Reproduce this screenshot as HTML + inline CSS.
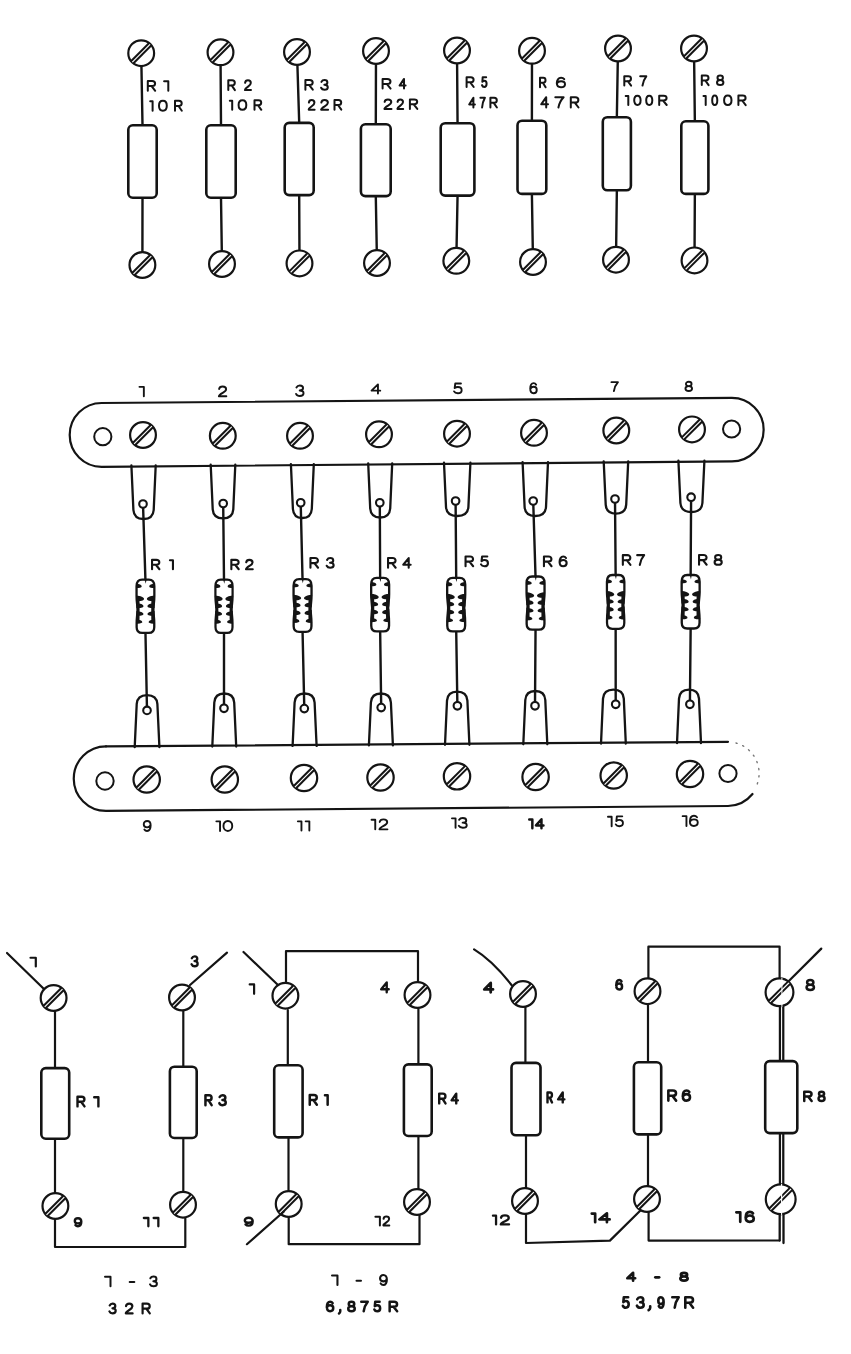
<!DOCTYPE html>
<html><head><meta charset="utf-8"><style>
html,body{margin:0;padding:0;background:#fff;width:851px;height:1354px;overflow:hidden}
svg{fill:#141414}
</style></head><body>
<svg width="851" height="1354" viewBox="0 0 851 1354" style="display:block">
<g stroke="#141414" fill="none" stroke-linecap="round" stroke-linejoin="round">
<line x1="141.2" y1="53.2" x2="142.5" y2="125" stroke-width="2.4"/>
<line x1="142.5" y1="198" x2="142.4" y2="265" stroke-width="2.4"/>
<line x1="220.5" y1="52.3" x2="221.0" y2="125" stroke-width="2.4"/>
<line x1="221.0" y1="198" x2="222" y2="264" stroke-width="2.4"/>
<line x1="297" y1="52" x2="299.2" y2="122.6" stroke-width="2.4"/>
<line x1="299.2" y1="195.4" x2="299.5" y2="263.4" stroke-width="2.4"/>
<line x1="376" y1="51" x2="375.8" y2="124" stroke-width="2.4"/>
<line x1="375.8" y1="196.4" x2="377" y2="263" stroke-width="2.4"/>
<line x1="457" y1="50.5" x2="457.54999999999995" y2="122.9" stroke-width="2.4"/>
<line x1="457.54999999999995" y1="195.9" x2="456.3" y2="260.8" stroke-width="2.4"/>
<line x1="532" y1="50.8" x2="531.9000000000001" y2="120.4" stroke-width="2.4"/>
<line x1="531.9000000000001" y1="194.2" x2="533" y2="262" stroke-width="2.4"/>
<line x1="618" y1="48.5" x2="616.85" y2="116.9" stroke-width="2.4"/>
<line x1="616.85" y1="190.6" x2="616" y2="259.7" stroke-width="2.4"/>
<line x1="694" y1="48.5" x2="694.85" y2="121" stroke-width="2.4"/>
<line x1="694.85" y1="194.2" x2="694.5" y2="260.4" stroke-width="2.4"/>
<rect x="128.30" y="125.30" width="28.40" height="72.40" rx="4.5" fill="#fff" stroke-width="2.6"/>
<rect x="206.30" y="125.30" width="29.40" height="72.40" rx="4.5" fill="#fff" stroke-width="2.6"/>
<rect x="284.70" y="122.90" width="29.00" height="72.20" rx="4.5" fill="#fff" stroke-width="2.6"/>
<rect x="360.90" y="124.30" width="29.80" height="71.80" rx="4.5" fill="#fff" stroke-width="2.6"/>
<rect x="440.70" y="123.20" width="33.70" height="72.40" rx="4.5" fill="#fff" stroke-width="2.6"/>
<rect x="517.50" y="120.70" width="28.80" height="73.20" rx="4.5" fill="#fff" stroke-width="2.6"/>
<rect x="602.80" y="117.20" width="28.10" height="73.10" rx="4.5" fill="#fff" stroke-width="2.6"/>
<rect x="681.30" y="121.30" width="27.10" height="72.60" rx="4.5" fill="#fff" stroke-width="2.6"/>
<circle cx="141.2" cy="53.2" r="12.90" fill="#fff" stroke-width="2.2"/>
<line x1="132.34" y1="62.06" x2="150.06" y2="44.34" stroke-width="5.2" stroke-linecap="butt"/>
<line x1="132.34" y1="62.06" x2="150.06" y2="44.34" stroke="#fff" stroke-width="1.15" stroke-linecap="butt"/>
<circle cx="220.5" cy="52.3" r="12.90" fill="#fff" stroke-width="2.2"/>
<line x1="211.64" y1="61.16" x2="229.36" y2="43.44" stroke-width="5.2" stroke-linecap="butt"/>
<line x1="211.64" y1="61.16" x2="229.36" y2="43.44" stroke="#fff" stroke-width="1.15" stroke-linecap="butt"/>
<circle cx="297" cy="52" r="12.90" fill="#fff" stroke-width="2.2"/>
<line x1="288.14" y1="60.86" x2="305.86" y2="43.14" stroke-width="5.2" stroke-linecap="butt"/>
<line x1="288.14" y1="60.86" x2="305.86" y2="43.14" stroke="#fff" stroke-width="1.15" stroke-linecap="butt"/>
<circle cx="376" cy="51" r="12.90" fill="#fff" stroke-width="2.2"/>
<line x1="367.14" y1="59.86" x2="384.86" y2="42.14" stroke-width="5.2" stroke-linecap="butt"/>
<line x1="367.14" y1="59.86" x2="384.86" y2="42.14" stroke="#fff" stroke-width="1.15" stroke-linecap="butt"/>
<circle cx="457" cy="50.5" r="12.90" fill="#fff" stroke-width="2.2"/>
<line x1="448.14" y1="59.36" x2="465.86" y2="41.64" stroke-width="5.2" stroke-linecap="butt"/>
<line x1="448.14" y1="59.36" x2="465.86" y2="41.64" stroke="#fff" stroke-width="1.15" stroke-linecap="butt"/>
<circle cx="532" cy="50.8" r="12.90" fill="#fff" stroke-width="2.2"/>
<line x1="523.14" y1="59.66" x2="540.86" y2="41.94" stroke-width="5.2" stroke-linecap="butt"/>
<line x1="523.14" y1="59.66" x2="540.86" y2="41.94" stroke="#fff" stroke-width="1.15" stroke-linecap="butt"/>
<circle cx="618" cy="48.5" r="12.90" fill="#fff" stroke-width="2.2"/>
<line x1="609.14" y1="57.36" x2="626.86" y2="39.64" stroke-width="5.2" stroke-linecap="butt"/>
<line x1="609.14" y1="57.36" x2="626.86" y2="39.64" stroke="#fff" stroke-width="1.15" stroke-linecap="butt"/>
<circle cx="694" cy="48.5" r="12.90" fill="#fff" stroke-width="2.2"/>
<line x1="685.14" y1="57.36" x2="702.86" y2="39.64" stroke-width="5.2" stroke-linecap="butt"/>
<line x1="685.14" y1="57.36" x2="702.86" y2="39.64" stroke="#fff" stroke-width="1.15" stroke-linecap="butt"/>
<circle cx="142.4" cy="265" r="12.90" fill="#fff" stroke-width="2.2"/>
<line x1="133.54" y1="273.86" x2="151.26" y2="256.14" stroke-width="5.2" stroke-linecap="butt"/>
<line x1="133.54" y1="273.86" x2="151.26" y2="256.14" stroke="#fff" stroke-width="1.15" stroke-linecap="butt"/>
<circle cx="222" cy="264" r="12.90" fill="#fff" stroke-width="2.2"/>
<line x1="213.14" y1="272.86" x2="230.86" y2="255.14" stroke-width="5.2" stroke-linecap="butt"/>
<line x1="213.14" y1="272.86" x2="230.86" y2="255.14" stroke="#fff" stroke-width="1.15" stroke-linecap="butt"/>
<circle cx="299.5" cy="263.4" r="12.90" fill="#fff" stroke-width="2.2"/>
<line x1="290.64" y1="272.26" x2="308.36" y2="254.54" stroke-width="5.2" stroke-linecap="butt"/>
<line x1="290.64" y1="272.26" x2="308.36" y2="254.54" stroke="#fff" stroke-width="1.15" stroke-linecap="butt"/>
<circle cx="377" cy="263" r="12.90" fill="#fff" stroke-width="2.2"/>
<line x1="368.14" y1="271.86" x2="385.86" y2="254.14" stroke-width="5.2" stroke-linecap="butt"/>
<line x1="368.14" y1="271.86" x2="385.86" y2="254.14" stroke="#fff" stroke-width="1.15" stroke-linecap="butt"/>
<circle cx="456.3" cy="260.8" r="12.90" fill="#fff" stroke-width="2.2"/>
<line x1="447.44" y1="269.66" x2="465.16" y2="251.94" stroke-width="5.2" stroke-linecap="butt"/>
<line x1="447.44" y1="269.66" x2="465.16" y2="251.94" stroke="#fff" stroke-width="1.15" stroke-linecap="butt"/>
<circle cx="533" cy="262" r="12.90" fill="#fff" stroke-width="2.2"/>
<line x1="524.14" y1="270.86" x2="541.86" y2="253.14" stroke-width="5.2" stroke-linecap="butt"/>
<line x1="524.14" y1="270.86" x2="541.86" y2="253.14" stroke="#fff" stroke-width="1.15" stroke-linecap="butt"/>
<circle cx="616" cy="259.7" r="12.90" fill="#fff" stroke-width="2.2"/>
<line x1="607.14" y1="268.56" x2="624.86" y2="250.84" stroke-width="5.2" stroke-linecap="butt"/>
<line x1="607.14" y1="268.56" x2="624.86" y2="250.84" stroke="#fff" stroke-width="1.15" stroke-linecap="butt"/>
<circle cx="694.5" cy="260.4" r="12.90" fill="#fff" stroke-width="2.2"/>
<line x1="685.64" y1="269.26" x2="703.36" y2="251.54" stroke-width="5.2" stroke-linecap="butt"/>
<line x1="685.64" y1="269.26" x2="703.36" y2="251.54" stroke="#fff" stroke-width="1.15" stroke-linecap="butt"/>
<path d="M101.6,403 L731.9,397.9 A31.75,31.75 0 0 1 731.9,461.4 L101.6,466.8 A31.9,31.9 0 0 1 101.6,403 Z" fill="#fff" stroke-width="2.2"/>
<circle cx="102.8" cy="436.7" r="8.60" fill="#fff" stroke-width="2.0"/>
<circle cx="731.6" cy="429" r="8.60" fill="#fff" stroke-width="2.0"/>
<circle cx="143" cy="435" r="12.90" fill="#fff" stroke-width="2.2"/>
<line x1="134.14" y1="443.86" x2="151.86" y2="426.14" stroke-width="5.2" stroke-linecap="butt"/>
<line x1="134.14" y1="443.86" x2="151.86" y2="426.14" stroke="#fff" stroke-width="1.15" stroke-linecap="butt"/>
<circle cx="222.8" cy="435.8" r="12.90" fill="#fff" stroke-width="2.2"/>
<line x1="213.94" y1="444.66" x2="231.66" y2="426.94" stroke-width="5.2" stroke-linecap="butt"/>
<line x1="213.94" y1="444.66" x2="231.66" y2="426.94" stroke="#fff" stroke-width="1.15" stroke-linecap="butt"/>
<circle cx="300" cy="435.8" r="12.90" fill="#fff" stroke-width="2.2"/>
<line x1="291.14" y1="444.66" x2="308.86" y2="426.94" stroke-width="5.2" stroke-linecap="butt"/>
<line x1="291.14" y1="444.66" x2="308.86" y2="426.94" stroke="#fff" stroke-width="1.15" stroke-linecap="butt"/>
<circle cx="379" cy="434.3" r="12.90" fill="#fff" stroke-width="2.2"/>
<line x1="370.14" y1="443.16" x2="387.86" y2="425.44" stroke-width="5.2" stroke-linecap="butt"/>
<line x1="370.14" y1="443.16" x2="387.86" y2="425.44" stroke="#fff" stroke-width="1.15" stroke-linecap="butt"/>
<circle cx="457" cy="433.7" r="12.90" fill="#fff" stroke-width="2.2"/>
<line x1="448.14" y1="442.56" x2="465.86" y2="424.84" stroke-width="5.2" stroke-linecap="butt"/>
<line x1="448.14" y1="442.56" x2="465.86" y2="424.84" stroke="#fff" stroke-width="1.15" stroke-linecap="butt"/>
<circle cx="534" cy="432.8" r="12.90" fill="#fff" stroke-width="2.2"/>
<line x1="525.14" y1="441.66" x2="542.86" y2="423.94" stroke-width="5.2" stroke-linecap="butt"/>
<line x1="525.14" y1="441.66" x2="542.86" y2="423.94" stroke="#fff" stroke-width="1.15" stroke-linecap="butt"/>
<circle cx="616.3" cy="430.5" r="12.90" fill="#fff" stroke-width="2.2"/>
<line x1="607.44" y1="439.36" x2="625.16" y2="421.64" stroke-width="5.2" stroke-linecap="butt"/>
<line x1="607.44" y1="439.36" x2="625.16" y2="421.64" stroke="#fff" stroke-width="1.15" stroke-linecap="butt"/>
<circle cx="692" cy="429.4" r="12.90" fill="#fff" stroke-width="2.2"/>
<line x1="683.14" y1="438.26" x2="700.86" y2="420.54" stroke-width="5.2" stroke-linecap="butt"/>
<line x1="683.14" y1="438.26" x2="700.86" y2="420.54" stroke="#fff" stroke-width="1.15" stroke-linecap="butt"/>
<line x1="143" y1="504" x2="145.45" y2="580.5" stroke-width="2.4"/>
<line x1="145.45" y1="632" x2="147" y2="710.4" stroke-width="2.4"/>
<line x1="223.2" y1="503.5" x2="224.0" y2="580.5" stroke-width="2.4"/>
<line x1="224.0" y1="632" x2="224" y2="708.3" stroke-width="2.4"/>
<line x1="300.7" y1="502.8" x2="302.54999999999995" y2="580" stroke-width="2.4"/>
<line x1="302.54999999999995" y1="631" x2="304.3" y2="708.6" stroke-width="2.4"/>
<line x1="379.8" y1="502.8" x2="380.15" y2="578.7" stroke-width="2.4"/>
<line x1="380.15" y1="630.5" x2="381.2" y2="707.6" stroke-width="2.4"/>
<line x1="455.6" y1="501" x2="456.2" y2="578.7" stroke-width="2.4"/>
<line x1="456.2" y1="630.5" x2="457.4" y2="705.8" stroke-width="2.4"/>
<line x1="533.2" y1="501" x2="535.55" y2="577.3" stroke-width="2.4"/>
<line x1="535.55" y1="628.8" x2="535" y2="705.8" stroke-width="2.4"/>
<line x1="615" y1="499" x2="615.65" y2="575.8" stroke-width="2.4"/>
<line x1="615.65" y1="628" x2="615.7" y2="704.3" stroke-width="2.4"/>
<line x1="691.1" y1="497.2" x2="690.65" y2="575.8" stroke-width="2.4"/>
<line x1="690.65" y1="627.7" x2="689.9" y2="704.3" stroke-width="2.4"/>
<path d="M131.4,465.4405997144217 L133.4,510 C133.9,517 138.55,519 143.55,519 C148.55,519 153.2,517 153.7,510 L155.7,465.4405997144217" fill="none" stroke-width="2.3"/>
<circle cx="143" cy="504" r="3.8" fill="#fff" stroke-width="2.1"/>
<path d="M210.7,464.75992384578774 L212.7,509.29999999999995 C213.2,516.3 218.0,518.3 223.0,518.3 C228.0,518.3 232.8,516.3 233.3,509.29999999999995 L235.3,464.75992384578774" fill="none" stroke-width="2.3"/>
<circle cx="223.2" cy="503.5" r="3.8" fill="#fff" stroke-width="2.1"/>
<path d="M290.9,464.0801047120419 L292.9,509 C293.4,516 297.35,518 302.35,518 C307.35,518 311.3,516 311.8,509 L313.8,464.0801047120419" fill="none" stroke-width="2.3"/>
<circle cx="300.7" cy="502.8" r="3.8" fill="#fff" stroke-width="2.1"/>
<path d="M368.2,463.41313660161825 L370.2,508.5 C370.7,515.5 375.2,517.5 380.2,517.5 C385.2,517.5 389.7,515.5 390.2,508.5 L392.2,463.41313660161825" fill="none" stroke-width="2.3"/>
<circle cx="379.8" cy="502.8" r="3.8" fill="#fff" stroke-width="2.1"/>
<path d="M444,462.75345073774395 L446,507 C446.5,514 452.2,516 457.2,516 C462.2,516 467.9,514 468.4,507 L470.4,462.75345073774395" fill="none" stroke-width="2.3"/>
<circle cx="455.6" cy="501" r="3.8" fill="#fff" stroke-width="2.1"/>
<path d="M522.6,462.08434079009993 L524.6,507 C525.1,514 530.3,516 535.3,516 C540.3,516 545.5,514 546,507 L548,462.08434079009993" fill="none" stroke-width="2.3"/>
<circle cx="533.2" cy="501" r="3.8" fill="#fff" stroke-width="2.1"/>
<path d="M603.7,461.39338410280817 L605.7,504.6 C606.2,511.6 610.95,513.6 615.95,513.6 C620.95,513.6 625.7,511.6 626.2,504.6 L628.2,461.39338410280817" fill="none" stroke-width="2.3"/>
<circle cx="615" cy="499" r="3.8" fill="#fff" stroke-width="2.1"/>
<path d="M678.4,460.7469776297001 L680.4,503 C680.9,510 686.4,512 691.4,512 C696.4,512 701.9,510 702.4,503 L704.4,460.7469776297001" fill="none" stroke-width="2.3"/>
<circle cx="691.1" cy="497.2" r="3.8" fill="#fff" stroke-width="2.1"/>
<g transform="translate(135.40,578.50) scale(0.9571,0.9737)"><path fill="#fff" stroke="#141414" stroke-width="2.4" d="M7,1.2 C3,1.2 1.2,3 1.2,8 L1.2,18 C1.2,24 2.2,28 2.2,32 C2.2,36 1.3,40 1.3,46 L1.3,50 C1.3,54 3,55.8 7,55.8 L14,55.8 C18,55.8 19.7,54 19.7,50 L19.7,46 C19.7,40 18.8,36 18.8,32 C18.8,28 19.8,24 19.8,18 L19.8,8 C19.8,3 18,1.2 14,1.2 Z"/><path fill="#141414" stroke="none" d="M0.6,18 L4.2,18 C4.4,26 4.6,34 4.2,46 L0.6,46 C1.6,40 2.6,36 2.6,32 C2.6,28 0.6,24 0.6,18 Z"/><path fill="#141414" stroke="none" d="M20.4,18 L16.8,18 C16.6,26 16.4,34 16.8,46 L20.4,46 C19.4,40 18.4,36 18.4,32 C18.4,28 20.4,24 20.4,18 Z"/><path fill="#141414" stroke="none" d="M1,5.24 C3.96,5.64 6.60,6.62 6.60,8.10 C6.60,9.38 3.96,9.84 1,9.84 Z"/><path fill="#141414" stroke="none" d="M20,5.24 C17.04,5.64 14.40,6.62 14.40,8.10 C14.40,9.38 17.04,9.84 20,9.84 Z"/><path fill="#141414" stroke="none" d="M1,17.42 C5.40,17.82 9.00,19.16 9.00,21.00 C9.00,22.64 5.40,23.22 1,23.22 Z"/><path fill="#141414" stroke="none" d="M20,17.42 C15.60,17.82 12.00,19.16 12.00,21.00 C12.00,22.64 15.60,23.22 20,23.22 Z"/><path fill="#141414" stroke="none" d="M1,25.18 C5.04,25.58 8.40,26.74 8.40,28.40 C8.40,29.86 5.04,30.38 1,30.38 Z"/><path fill="#141414" stroke="none" d="M20,25.18 C15.96,25.58 12.60,26.74 12.60,28.40 C12.60,29.86 15.96,30.38 20,30.38 Z"/><path fill="#141414" stroke="none" d="M1,33.28 C5.04,33.68 8.40,34.84 8.40,36.50 C8.40,37.96 5.04,38.48 1,38.48 Z"/><path fill="#141414" stroke="none" d="M20,33.28 C15.96,33.68 12.60,34.84 12.60,36.50 C12.60,37.96 15.96,38.48 20,38.48 Z"/><path fill="#141414" stroke="none" d="M1,41.84 C4.32,42.24 7.20,43.22 7.20,44.70 C7.20,45.98 4.32,46.44 1,46.44 Z"/><path fill="#141414" stroke="none" d="M20,41.84 C16.68,42.24 13.80,43.22 13.80,44.70 C13.80,45.98 16.68,46.44 20,46.44 Z"/><path fill="#141414" stroke="none" d="M9.4,0.5 L11.8,0.5 L10.8,5.5 Z"/></g>
<g transform="translate(214.30,578.50) scale(0.9238,0.9737)"><path fill="#fff" stroke="#141414" stroke-width="2.4" d="M7,1.2 C3,1.2 1.2,3 1.2,8 L1.2,18 C1.2,24 2.2,28 2.2,32 C2.2,36 1.3,40 1.3,46 L1.3,50 C1.3,54 3,55.8 7,55.8 L14,55.8 C18,55.8 19.7,54 19.7,50 L19.7,46 C19.7,40 18.8,36 18.8,32 C18.8,28 19.8,24 19.8,18 L19.8,8 C19.8,3 18,1.2 14,1.2 Z"/><path fill="#141414" stroke="none" d="M0.6,18 L4.2,18 C4.4,26 4.6,34 4.2,46 L0.6,46 C1.6,40 2.6,36 2.6,32 C2.6,28 0.6,24 0.6,18 Z"/><path fill="#141414" stroke="none" d="M20.4,18 L16.8,18 C16.6,26 16.4,34 16.8,46 L20.4,46 C19.4,40 18.4,36 18.4,32 C18.4,28 20.4,24 20.4,18 Z"/><path fill="#141414" stroke="none" d="M1,5.24 C3.96,5.64 6.60,6.62 6.60,8.10 C6.60,9.38 3.96,9.84 1,9.84 Z"/><path fill="#141414" stroke="none" d="M20,5.24 C17.04,5.64 14.40,6.62 14.40,8.10 C14.40,9.38 17.04,9.84 20,9.84 Z"/><path fill="#141414" stroke="none" d="M1,17.42 C5.40,17.82 9.00,19.16 9.00,21.00 C9.00,22.64 5.40,23.22 1,23.22 Z"/><path fill="#141414" stroke="none" d="M20,17.42 C15.60,17.82 12.00,19.16 12.00,21.00 C12.00,22.64 15.60,23.22 20,23.22 Z"/><path fill="#141414" stroke="none" d="M1,25.18 C5.04,25.58 8.40,26.74 8.40,28.40 C8.40,29.86 5.04,30.38 1,30.38 Z"/><path fill="#141414" stroke="none" d="M20,25.18 C15.96,25.58 12.60,26.74 12.60,28.40 C12.60,29.86 15.96,30.38 20,30.38 Z"/><path fill="#141414" stroke="none" d="M1,33.28 C5.04,33.68 8.40,34.84 8.40,36.50 C8.40,37.96 5.04,38.48 1,38.48 Z"/><path fill="#141414" stroke="none" d="M20,33.28 C15.96,33.68 12.60,34.84 12.60,36.50 C12.60,37.96 15.96,38.48 20,38.48 Z"/><path fill="#141414" stroke="none" d="M1,41.84 C4.32,42.24 7.20,43.22 7.20,44.70 C7.20,45.98 4.32,46.44 1,46.44 Z"/><path fill="#141414" stroke="none" d="M20,41.84 C16.68,42.24 13.80,43.22 13.80,44.70 C13.80,45.98 16.68,46.44 20,46.44 Z"/><path fill="#141414" stroke="none" d="M9.4,0.5 L11.8,0.5 L10.8,5.5 Z"/></g>
<g transform="translate(292.40,578.00) scale(0.9667,0.9649)"><path fill="#fff" stroke="#141414" stroke-width="2.4" d="M7,1.2 C3,1.2 1.2,3 1.2,8 L1.2,18 C1.2,24 2.2,28 2.2,32 C2.2,36 1.3,40 1.3,46 L1.3,50 C1.3,54 3,55.8 7,55.8 L14,55.8 C18,55.8 19.7,54 19.7,50 L19.7,46 C19.7,40 18.8,36 18.8,32 C18.8,28 19.8,24 19.8,18 L19.8,8 C19.8,3 18,1.2 14,1.2 Z"/><path fill="#141414" stroke="none" d="M0.6,18 L4.2,18 C4.4,26 4.6,34 4.2,46 L0.6,46 C1.6,40 2.6,36 2.6,32 C2.6,28 0.6,24 0.6,18 Z"/><path fill="#141414" stroke="none" d="M20.4,18 L16.8,18 C16.6,26 16.4,34 16.8,46 L20.4,46 C19.4,40 18.4,36 18.4,32 C18.4,28 20.4,24 20.4,18 Z"/><path fill="#141414" stroke="none" d="M1,5.24 C3.96,5.64 6.60,6.62 6.60,8.10 C6.60,9.38 3.96,9.84 1,9.84 Z"/><path fill="#141414" stroke="none" d="M20,5.24 C17.04,5.64 14.40,6.62 14.40,8.10 C14.40,9.38 17.04,9.84 20,9.84 Z"/><path fill="#141414" stroke="none" d="M1,17.42 C5.40,17.82 9.00,19.16 9.00,21.00 C9.00,22.64 5.40,23.22 1,23.22 Z"/><path fill="#141414" stroke="none" d="M20,17.42 C15.60,17.82 12.00,19.16 12.00,21.00 C12.00,22.64 15.60,23.22 20,23.22 Z"/><path fill="#141414" stroke="none" d="M1,25.18 C5.04,25.58 8.40,26.74 8.40,28.40 C8.40,29.86 5.04,30.38 1,30.38 Z"/><path fill="#141414" stroke="none" d="M20,25.18 C15.96,25.58 12.60,26.74 12.60,28.40 C12.60,29.86 15.96,30.38 20,30.38 Z"/><path fill="#141414" stroke="none" d="M1,33.28 C5.04,33.68 8.40,34.84 8.40,36.50 C8.40,37.96 5.04,38.48 1,38.48 Z"/><path fill="#141414" stroke="none" d="M20,33.28 C15.96,33.68 12.60,34.84 12.60,36.50 C12.60,37.96 15.96,38.48 20,38.48 Z"/><path fill="#141414" stroke="none" d="M1,41.84 C4.32,42.24 7.20,43.22 7.20,44.70 C7.20,45.98 4.32,46.44 1,46.44 Z"/><path fill="#141414" stroke="none" d="M20,41.84 C16.68,42.24 13.80,43.22 13.80,44.70 C13.80,45.98 16.68,46.44 20,46.44 Z"/><path fill="#141414" stroke="none" d="M9.4,0.5 L11.8,0.5 L10.8,5.5 Z"/></g>
<g transform="translate(370.00,576.70) scale(0.9667,0.9789)"><path fill="#fff" stroke="#141414" stroke-width="2.4" d="M7,1.2 C3,1.2 1.2,3 1.2,8 L1.2,18 C1.2,24 2.2,28 2.2,32 C2.2,36 1.3,40 1.3,46 L1.3,50 C1.3,54 3,55.8 7,55.8 L14,55.8 C18,55.8 19.7,54 19.7,50 L19.7,46 C19.7,40 18.8,36 18.8,32 C18.8,28 19.8,24 19.8,18 L19.8,8 C19.8,3 18,1.2 14,1.2 Z"/><path fill="#141414" stroke="none" d="M0.6,18 L4.2,18 C4.4,26 4.6,34 4.2,46 L0.6,46 C1.6,40 2.6,36 2.6,32 C2.6,28 0.6,24 0.6,18 Z"/><path fill="#141414" stroke="none" d="M20.4,18 L16.8,18 C16.6,26 16.4,34 16.8,46 L20.4,46 C19.4,40 18.4,36 18.4,32 C18.4,28 20.4,24 20.4,18 Z"/><path fill="#141414" stroke="none" d="M1,5.24 C3.96,5.64 6.60,6.62 6.60,8.10 C6.60,9.38 3.96,9.84 1,9.84 Z"/><path fill="#141414" stroke="none" d="M20,5.24 C17.04,5.64 14.40,6.62 14.40,8.10 C14.40,9.38 17.04,9.84 20,9.84 Z"/><path fill="#141414" stroke="none" d="M1,17.42 C5.40,17.82 9.00,19.16 9.00,21.00 C9.00,22.64 5.40,23.22 1,23.22 Z"/><path fill="#141414" stroke="none" d="M20,17.42 C15.60,17.82 12.00,19.16 12.00,21.00 C12.00,22.64 15.60,23.22 20,23.22 Z"/><path fill="#141414" stroke="none" d="M1,25.18 C5.04,25.58 8.40,26.74 8.40,28.40 C8.40,29.86 5.04,30.38 1,30.38 Z"/><path fill="#141414" stroke="none" d="M20,25.18 C15.96,25.58 12.60,26.74 12.60,28.40 C12.60,29.86 15.96,30.38 20,30.38 Z"/><path fill="#141414" stroke="none" d="M1,33.28 C5.04,33.68 8.40,34.84 8.40,36.50 C8.40,37.96 5.04,38.48 1,38.48 Z"/><path fill="#141414" stroke="none" d="M20,33.28 C15.96,33.68 12.60,34.84 12.60,36.50 C12.60,37.96 15.96,38.48 20,38.48 Z"/><path fill="#141414" stroke="none" d="M1,41.84 C4.32,42.24 7.20,43.22 7.20,44.70 C7.20,45.98 4.32,46.44 1,46.44 Z"/><path fill="#141414" stroke="none" d="M20,41.84 C16.68,42.24 13.80,43.22 13.80,44.70 C13.80,45.98 16.68,46.44 20,46.44 Z"/><path fill="#141414" stroke="none" d="M9.4,0.5 L11.8,0.5 L10.8,5.5 Z"/></g>
<g transform="translate(446.00,576.70) scale(0.9714,0.9789)"><path fill="#fff" stroke="#141414" stroke-width="2.4" d="M7,1.2 C3,1.2 1.2,3 1.2,8 L1.2,18 C1.2,24 2.2,28 2.2,32 C2.2,36 1.3,40 1.3,46 L1.3,50 C1.3,54 3,55.8 7,55.8 L14,55.8 C18,55.8 19.7,54 19.7,50 L19.7,46 C19.7,40 18.8,36 18.8,32 C18.8,28 19.8,24 19.8,18 L19.8,8 C19.8,3 18,1.2 14,1.2 Z"/><path fill="#141414" stroke="none" d="M0.6,18 L4.2,18 C4.4,26 4.6,34 4.2,46 L0.6,46 C1.6,40 2.6,36 2.6,32 C2.6,28 0.6,24 0.6,18 Z"/><path fill="#141414" stroke="none" d="M20.4,18 L16.8,18 C16.6,26 16.4,34 16.8,46 L20.4,46 C19.4,40 18.4,36 18.4,32 C18.4,28 20.4,24 20.4,18 Z"/><path fill="#141414" stroke="none" d="M1,5.24 C3.96,5.64 6.60,6.62 6.60,8.10 C6.60,9.38 3.96,9.84 1,9.84 Z"/><path fill="#141414" stroke="none" d="M20,5.24 C17.04,5.64 14.40,6.62 14.40,8.10 C14.40,9.38 17.04,9.84 20,9.84 Z"/><path fill="#141414" stroke="none" d="M1,17.42 C5.40,17.82 9.00,19.16 9.00,21.00 C9.00,22.64 5.40,23.22 1,23.22 Z"/><path fill="#141414" stroke="none" d="M20,17.42 C15.60,17.82 12.00,19.16 12.00,21.00 C12.00,22.64 15.60,23.22 20,23.22 Z"/><path fill="#141414" stroke="none" d="M1,25.18 C5.04,25.58 8.40,26.74 8.40,28.40 C8.40,29.86 5.04,30.38 1,30.38 Z"/><path fill="#141414" stroke="none" d="M20,25.18 C15.96,25.58 12.60,26.74 12.60,28.40 C12.60,29.86 15.96,30.38 20,30.38 Z"/><path fill="#141414" stroke="none" d="M1,33.28 C5.04,33.68 8.40,34.84 8.40,36.50 C8.40,37.96 5.04,38.48 1,38.48 Z"/><path fill="#141414" stroke="none" d="M20,33.28 C15.96,33.68 12.60,34.84 12.60,36.50 C12.60,37.96 15.96,38.48 20,38.48 Z"/><path fill="#141414" stroke="none" d="M1,41.84 C4.32,42.24 7.20,43.22 7.20,44.70 C7.20,45.98 4.32,46.44 1,46.44 Z"/><path fill="#141414" stroke="none" d="M20,41.84 C16.68,42.24 13.80,43.22 13.80,44.70 C13.80,45.98 16.68,46.44 20,46.44 Z"/><path fill="#141414" stroke="none" d="M9.4,0.5 L11.8,0.5 L10.8,5.5 Z"/></g>
<g transform="translate(525.40,575.30) scale(0.9667,0.9737)"><path fill="#fff" stroke="#141414" stroke-width="2.4" d="M7,1.2 C3,1.2 1.2,3 1.2,8 L1.2,18 C1.2,24 2.2,28 2.2,32 C2.2,36 1.3,40 1.3,46 L1.3,50 C1.3,54 3,55.8 7,55.8 L14,55.8 C18,55.8 19.7,54 19.7,50 L19.7,46 C19.7,40 18.8,36 18.8,32 C18.8,28 19.8,24 19.8,18 L19.8,8 C19.8,3 18,1.2 14,1.2 Z"/><path fill="#141414" stroke="none" d="M0.6,18 L4.2,18 C4.4,26 4.6,34 4.2,46 L0.6,46 C1.6,40 2.6,36 2.6,32 C2.6,28 0.6,24 0.6,18 Z"/><path fill="#141414" stroke="none" d="M20.4,18 L16.8,18 C16.6,26 16.4,34 16.8,46 L20.4,46 C19.4,40 18.4,36 18.4,32 C18.4,28 20.4,24 20.4,18 Z"/><path fill="#141414" stroke="none" d="M1,5.24 C3.96,5.64 6.60,6.62 6.60,8.10 C6.60,9.38 3.96,9.84 1,9.84 Z"/><path fill="#141414" stroke="none" d="M20,5.24 C17.04,5.64 14.40,6.62 14.40,8.10 C14.40,9.38 17.04,9.84 20,9.84 Z"/><path fill="#141414" stroke="none" d="M1,17.42 C5.40,17.82 9.00,19.16 9.00,21.00 C9.00,22.64 5.40,23.22 1,23.22 Z"/><path fill="#141414" stroke="none" d="M20,17.42 C15.60,17.82 12.00,19.16 12.00,21.00 C12.00,22.64 15.60,23.22 20,23.22 Z"/><path fill="#141414" stroke="none" d="M1,25.18 C5.04,25.58 8.40,26.74 8.40,28.40 C8.40,29.86 5.04,30.38 1,30.38 Z"/><path fill="#141414" stroke="none" d="M20,25.18 C15.96,25.58 12.60,26.74 12.60,28.40 C12.60,29.86 15.96,30.38 20,30.38 Z"/><path fill="#141414" stroke="none" d="M1,33.28 C5.04,33.68 8.40,34.84 8.40,36.50 C8.40,37.96 5.04,38.48 1,38.48 Z"/><path fill="#141414" stroke="none" d="M20,33.28 C15.96,33.68 12.60,34.84 12.60,36.50 C12.60,37.96 15.96,38.48 20,38.48 Z"/><path fill="#141414" stroke="none" d="M1,41.84 C4.32,42.24 7.20,43.22 7.20,44.70 C7.20,45.98 4.32,46.44 1,46.44 Z"/><path fill="#141414" stroke="none" d="M20,41.84 C16.68,42.24 13.80,43.22 13.80,44.70 C13.80,45.98 16.68,46.44 20,46.44 Z"/><path fill="#141414" stroke="none" d="M9.4,0.5 L11.8,0.5 L10.8,5.5 Z"/></g>
<g transform="translate(605.80,573.80) scale(0.9381,0.9860)"><path fill="#fff" stroke="#141414" stroke-width="2.4" d="M7,1.2 C3,1.2 1.2,3 1.2,8 L1.2,18 C1.2,24 2.2,28 2.2,32 C2.2,36 1.3,40 1.3,46 L1.3,50 C1.3,54 3,55.8 7,55.8 L14,55.8 C18,55.8 19.7,54 19.7,50 L19.7,46 C19.7,40 18.8,36 18.8,32 C18.8,28 19.8,24 19.8,18 L19.8,8 C19.8,3 18,1.2 14,1.2 Z"/><path fill="#141414" stroke="none" d="M0.6,18 L4.2,18 C4.4,26 4.6,34 4.2,46 L0.6,46 C1.6,40 2.6,36 2.6,32 C2.6,28 0.6,24 0.6,18 Z"/><path fill="#141414" stroke="none" d="M20.4,18 L16.8,18 C16.6,26 16.4,34 16.8,46 L20.4,46 C19.4,40 18.4,36 18.4,32 C18.4,28 20.4,24 20.4,18 Z"/><path fill="#141414" stroke="none" d="M1,5.24 C3.96,5.64 6.60,6.62 6.60,8.10 C6.60,9.38 3.96,9.84 1,9.84 Z"/><path fill="#141414" stroke="none" d="M20,5.24 C17.04,5.64 14.40,6.62 14.40,8.10 C14.40,9.38 17.04,9.84 20,9.84 Z"/><path fill="#141414" stroke="none" d="M1,17.42 C5.40,17.82 9.00,19.16 9.00,21.00 C9.00,22.64 5.40,23.22 1,23.22 Z"/><path fill="#141414" stroke="none" d="M20,17.42 C15.60,17.82 12.00,19.16 12.00,21.00 C12.00,22.64 15.60,23.22 20,23.22 Z"/><path fill="#141414" stroke="none" d="M1,25.18 C5.04,25.58 8.40,26.74 8.40,28.40 C8.40,29.86 5.04,30.38 1,30.38 Z"/><path fill="#141414" stroke="none" d="M20,25.18 C15.96,25.58 12.60,26.74 12.60,28.40 C12.60,29.86 15.96,30.38 20,30.38 Z"/><path fill="#141414" stroke="none" d="M1,33.28 C5.04,33.68 8.40,34.84 8.40,36.50 C8.40,37.96 5.04,38.48 1,38.48 Z"/><path fill="#141414" stroke="none" d="M20,33.28 C15.96,33.68 12.60,34.84 12.60,36.50 C12.60,37.96 15.96,38.48 20,38.48 Z"/><path fill="#141414" stroke="none" d="M1,41.84 C4.32,42.24 7.20,43.22 7.20,44.70 C7.20,45.98 4.32,46.44 1,46.44 Z"/><path fill="#141414" stroke="none" d="M20,41.84 C16.68,42.24 13.80,43.22 13.80,44.70 C13.80,45.98 16.68,46.44 20,46.44 Z"/><path fill="#141414" stroke="none" d="M9.4,0.5 L11.8,0.5 L10.8,5.5 Z"/></g>
<g transform="translate(680.50,573.80) scale(0.9667,0.9807)"><path fill="#fff" stroke="#141414" stroke-width="2.4" d="M7,1.2 C3,1.2 1.2,3 1.2,8 L1.2,18 C1.2,24 2.2,28 2.2,32 C2.2,36 1.3,40 1.3,46 L1.3,50 C1.3,54 3,55.8 7,55.8 L14,55.8 C18,55.8 19.7,54 19.7,50 L19.7,46 C19.7,40 18.8,36 18.8,32 C18.8,28 19.8,24 19.8,18 L19.8,8 C19.8,3 18,1.2 14,1.2 Z"/><path fill="#141414" stroke="none" d="M0.6,18 L4.2,18 C4.4,26 4.6,34 4.2,46 L0.6,46 C1.6,40 2.6,36 2.6,32 C2.6,28 0.6,24 0.6,18 Z"/><path fill="#141414" stroke="none" d="M20.4,18 L16.8,18 C16.6,26 16.4,34 16.8,46 L20.4,46 C19.4,40 18.4,36 18.4,32 C18.4,28 20.4,24 20.4,18 Z"/><path fill="#141414" stroke="none" d="M1,5.24 C3.96,5.64 6.60,6.62 6.60,8.10 C6.60,9.38 3.96,9.84 1,9.84 Z"/><path fill="#141414" stroke="none" d="M20,5.24 C17.04,5.64 14.40,6.62 14.40,8.10 C14.40,9.38 17.04,9.84 20,9.84 Z"/><path fill="#141414" stroke="none" d="M1,17.42 C5.40,17.82 9.00,19.16 9.00,21.00 C9.00,22.64 5.40,23.22 1,23.22 Z"/><path fill="#141414" stroke="none" d="M20,17.42 C15.60,17.82 12.00,19.16 12.00,21.00 C12.00,22.64 15.60,23.22 20,23.22 Z"/><path fill="#141414" stroke="none" d="M1,25.18 C5.04,25.58 8.40,26.74 8.40,28.40 C8.40,29.86 5.04,30.38 1,30.38 Z"/><path fill="#141414" stroke="none" d="M20,25.18 C15.96,25.58 12.60,26.74 12.60,28.40 C12.60,29.86 15.96,30.38 20,30.38 Z"/><path fill="#141414" stroke="none" d="M1,33.28 C5.04,33.68 8.40,34.84 8.40,36.50 C8.40,37.96 5.04,38.48 1,38.48 Z"/><path fill="#141414" stroke="none" d="M20,33.28 C15.96,33.68 12.60,34.84 12.60,36.50 C12.60,37.96 15.96,38.48 20,38.48 Z"/><path fill="#141414" stroke="none" d="M1,41.84 C4.32,42.24 7.20,43.22 7.20,44.70 C7.20,45.98 4.32,46.44 1,46.44 Z"/><path fill="#141414" stroke="none" d="M20,41.84 C16.68,42.24 13.80,43.22 13.80,44.70 C13.80,45.98 16.68,46.44 20,46.44 Z"/><path fill="#141414" stroke="none" d="M9.4,0.5 L11.8,0.5 L10.8,5.5 Z"/></g>
<path d="M134.7,747.0964147909967 L136.7,704.2 C137.2,697.2 142.05,695.2 147.05,695.2 C152.05,695.2 156.9,697.2 157.4,704.2 L159.4,747.0964147909967" fill="none" stroke-width="2.3"/>
<circle cx="147" cy="710.4" r="3.8" fill="#fff" stroke-width="2.1"/>
<path d="M212.3,746.5254823151125 L214.3,702.5 C214.8,695.5 219.25,693.5 224.25,693.5 C229.25,693.5 233.7,695.5 234.2,702.5 L236.2,746.5254823151125" fill="none" stroke-width="2.3"/>
<circle cx="224" cy="708.3" r="3.8" fill="#fff" stroke-width="2.1"/>
<path d="M292.6,745.9312540192926 L294.6,702.5 C295.1,695.5 299.6,693.5 304.6,693.5 C309.6,693.5 314.1,695.5 314.6,702.5 L316.6,745.9312540192926" fill="none" stroke-width="2.3"/>
<circle cx="304.3" cy="708.6" r="3.8" fill="#fff" stroke-width="2.1"/>
<path d="M368.9,745.3669774919614 L370.9,702.5 C371.4,695.5 375.9,693.5 380.9,693.5 C385.9,693.5 390.4,695.5 390.9,702.5 L392.9,745.3669774919614" fill="none" stroke-width="2.3"/>
<circle cx="381.2" cy="707.6" r="3.8" fill="#fff" stroke-width="2.1"/>
<path d="M445,744.8027009646302 L447,700.7 C447.5,693.7 452.2,691.7 457.2,691.7 C462.2,691.7 466.9,693.7 467.4,700.7 L469.4,744.8027009646302" fill="none" stroke-width="2.3"/>
<circle cx="457.4" cy="705.8" r="3.8" fill="#fff" stroke-width="2.1"/>
<path d="M523.3,744.2251125401929 L525.3,700 C525.8,693 530.3,691 535.3,691 C540.3,691 544.8,693 545.3,700 L547.3,744.2251125401929" fill="none" stroke-width="2.3"/>
<circle cx="535" cy="705.8" r="3.8" fill="#fff" stroke-width="2.1"/>
<path d="M601,743.6475241157556 L603,698.6 C603.5,691.6 608.4,689.6 613.4,689.6 C618.4,689.6 623.3,691.6 623.8,698.6 L625.8,743.6475241157556" fill="none" stroke-width="2.3"/>
<circle cx="615.7" cy="704.3" r="3.8" fill="#fff" stroke-width="2.1"/>
<path d="M677,743.088424437299 L679,698.6 C679.5,691.6 684.0,689.6 689.0,689.6 C694.0,689.6 698.5,691.6 699,698.6 L701,743.088424437299" fill="none" stroke-width="2.3"/>
<circle cx="689.9" cy="704.3" r="3.8" fill="#fff" stroke-width="2.1"/>
<path d="M106,746.4 L728,741.8" fill="none" stroke-width="2.2"/>
<path d="M752.5,794 C746,802 738,805.8 728,806 L106,810.9 A32.25,32.25 0 0 1 106,746.4" fill="none" stroke-width="2.2"/>
<path d="M736,743 A31.5,31.5 0 0 1 756,787" fill="none" stroke="#777" stroke-width="1.4" stroke-dasharray="1.2,6"/>
<circle cx="105" cy="781" r="8.70" fill="#fff" stroke-width="2.0"/>
<circle cx="728" cy="773.5" r="8.60" fill="#fff" stroke-width="2.0"/>
<circle cx="146.7" cy="779.5" r="13.20" fill="#fff" stroke-width="2.2"/>
<line x1="137.62" y1="788.58" x2="155.78" y2="770.42" stroke-width="5.2" stroke-linecap="butt"/>
<line x1="137.62" y1="788.58" x2="155.78" y2="770.42" stroke="#fff" stroke-width="1.15" stroke-linecap="butt"/>
<circle cx="224.8" cy="779.5" r="13.20" fill="#fff" stroke-width="2.2"/>
<line x1="215.72" y1="788.58" x2="233.88" y2="770.42" stroke-width="5.2" stroke-linecap="butt"/>
<line x1="215.72" y1="788.58" x2="233.88" y2="770.42" stroke="#fff" stroke-width="1.15" stroke-linecap="butt"/>
<circle cx="304" cy="778" r="13.20" fill="#fff" stroke-width="2.2"/>
<line x1="294.92" y1="787.08" x2="313.08" y2="768.92" stroke-width="5.2" stroke-linecap="butt"/>
<line x1="294.92" y1="787.08" x2="313.08" y2="768.92" stroke="#fff" stroke-width="1.15" stroke-linecap="butt"/>
<circle cx="380.5" cy="777.5" r="13.20" fill="#fff" stroke-width="2.2"/>
<line x1="371.42" y1="786.58" x2="389.58" y2="768.42" stroke-width="5.2" stroke-linecap="butt"/>
<line x1="371.42" y1="786.58" x2="389.58" y2="768.42" stroke="#fff" stroke-width="1.15" stroke-linecap="butt"/>
<circle cx="457" cy="776.3" r="13.20" fill="#fff" stroke-width="2.2"/>
<line x1="447.92" y1="785.38" x2="466.08" y2="767.22" stroke-width="5.2" stroke-linecap="butt"/>
<line x1="447.92" y1="785.38" x2="466.08" y2="767.22" stroke="#fff" stroke-width="1.15" stroke-linecap="butt"/>
<circle cx="535.6" cy="777" r="13.20" fill="#fff" stroke-width="2.2"/>
<line x1="526.52" y1="786.08" x2="544.68" y2="767.92" stroke-width="5.2" stroke-linecap="butt"/>
<line x1="526.52" y1="786.08" x2="544.68" y2="767.92" stroke="#fff" stroke-width="1.15" stroke-linecap="butt"/>
<circle cx="613.7" cy="775.5" r="13.20" fill="#fff" stroke-width="2.2"/>
<line x1="604.62" y1="784.58" x2="622.78" y2="766.42" stroke-width="5.2" stroke-linecap="butt"/>
<line x1="604.62" y1="784.58" x2="622.78" y2="766.42" stroke="#fff" stroke-width="1.15" stroke-linecap="butt"/>
<circle cx="690" cy="774" r="13.20" fill="#fff" stroke-width="2.2"/>
<line x1="680.92" y1="783.08" x2="699.08" y2="764.92" stroke-width="5.2" stroke-linecap="butt"/>
<line x1="680.92" y1="783.08" x2="699.08" y2="764.92" stroke="#fff" stroke-width="1.15" stroke-linecap="butt"/>
<line x1="7" y1="953" x2="45" y2="990" stroke-width="2.2"/>
<line x1="55" y1="1011" x2="55" y2="1068" stroke-width="2.2"/>
<line x1="55" y1="1138" x2="55" y2="1193" stroke-width="2.2"/>
<line x1="183.3" y1="1011" x2="183.3" y2="1066" stroke-width="2.2"/>
<line x1="183.3" y1="1138" x2="183.3" y2="1191" stroke-width="2.2"/>
<polyline points="55,1219 55,1247 185.3,1247 185.3,1218" stroke-width="2.2" fill="none"/>
<rect x="41.30" y="1068.10" width="27.90" height="70.60" rx="4.5" fill="#fff" stroke-width="2.6"/>
<rect x="169.90" y="1066.70" width="26.80" height="71.30" rx="4.5" fill="#fff" stroke-width="2.6"/>
<circle cx="53.6" cy="998" r="12.90" fill="#fff" stroke-width="2.2"/>
<line x1="44.74" y1="1006.86" x2="62.46" y2="989.14" stroke-width="5.2" stroke-linecap="butt"/>
<line x1="44.74" y1="1006.86" x2="62.46" y2="989.14" stroke="#fff" stroke-width="1.15" stroke-linecap="butt"/>
<circle cx="182" cy="997.5" r="12.90" fill="#fff" stroke-width="2.2"/>
<line x1="173.14" y1="1006.36" x2="190.86" y2="988.64" stroke-width="5.2" stroke-linecap="butt"/>
<line x1="173.14" y1="1006.36" x2="190.86" y2="988.64" stroke="#fff" stroke-width="1.15" stroke-linecap="butt"/>
<circle cx="55.4" cy="1206" r="12.90" fill="#fff" stroke-width="2.2"/>
<line x1="46.54" y1="1214.86" x2="64.26" y2="1197.14" stroke-width="5.2" stroke-linecap="butt"/>
<line x1="46.54" y1="1214.86" x2="64.26" y2="1197.14" stroke="#fff" stroke-width="1.15" stroke-linecap="butt"/>
<circle cx="183" cy="1204.7" r="12.90" fill="#fff" stroke-width="2.2"/>
<line x1="174.14" y1="1213.56" x2="191.86" y2="1195.84" stroke-width="5.2" stroke-linecap="butt"/>
<line x1="174.14" y1="1213.56" x2="191.86" y2="1195.84" stroke="#fff" stroke-width="1.15" stroke-linecap="butt"/>
<line x1="227" y1="952.6" x2="190" y2="985" stroke-width="2.2"/>
<polyline points="286,982 286,951.2 418,951.2 418,981" stroke-width="2.2" fill="none"/>
<line x1="243.5" y1="952" x2="279" y2="986" stroke-width="2.2"/>
<line x1="287.8" y1="1010" x2="287.8" y2="1065" stroke-width="2.2"/>
<line x1="288.5" y1="1138" x2="288.5" y2="1190" stroke-width="2.2"/>
<line x1="418.4" y1="1009" x2="418.4" y2="1064" stroke-width="2.2"/>
<line x1="418.4" y1="1137" x2="418.4" y2="1189" stroke-width="2.2"/>
<polyline points="288.7,1217 288.7,1244.2 419.5,1244.2 419.5,1215" stroke-width="2.2" fill="none"/>
<rect x="274.20" y="1065.30" width="28.40" height="72.10" rx="4.5" fill="#fff" stroke-width="2.6"/>
<rect x="403.90" y="1064.40" width="27.80" height="71.60" rx="4.5" fill="#fff" stroke-width="2.6"/>
<circle cx="285.4" cy="995.7" r="12.90" fill="#fff" stroke-width="2.2"/>
<line x1="276.54" y1="1004.56" x2="294.26" y2="986.84" stroke-width="5.2" stroke-linecap="butt"/>
<line x1="276.54" y1="1004.56" x2="294.26" y2="986.84" stroke="#fff" stroke-width="1.15" stroke-linecap="butt"/>
<circle cx="417.5" cy="995" r="12.90" fill="#fff" stroke-width="2.2"/>
<line x1="408.64" y1="1003.86" x2="426.36" y2="986.14" stroke-width="5.2" stroke-linecap="butt"/>
<line x1="408.64" y1="1003.86" x2="426.36" y2="986.14" stroke="#fff" stroke-width="1.15" stroke-linecap="butt"/>
<circle cx="288.7" cy="1204" r="12.90" fill="#fff" stroke-width="2.2"/>
<line x1="279.84" y1="1212.86" x2="297.56" y2="1195.14" stroke-width="5.2" stroke-linecap="butt"/>
<line x1="279.84" y1="1212.86" x2="297.56" y2="1195.14" stroke="#fff" stroke-width="1.15" stroke-linecap="butt"/>
<circle cx="417" cy="1202" r="12.90" fill="#fff" stroke-width="2.2"/>
<line x1="408.14" y1="1210.86" x2="425.86" y2="1193.14" stroke-width="5.2" stroke-linecap="butt"/>
<line x1="408.14" y1="1210.86" x2="425.86" y2="1193.14" stroke="#fff" stroke-width="1.15" stroke-linecap="butt"/>
<line x1="246.9" y1="1244.2" x2="283.6" y2="1211.8" stroke-width="2.2"/>
<path d="M474.1,949.4 Q492.1,960.2 511.5,985" fill="none" stroke-width="2.2"/>
<line x1="525.4" y1="1007" x2="525.4" y2="1062" stroke-width="2.2"/>
<line x1="526" y1="1136" x2="526" y2="1188" stroke-width="2.2"/>
<polyline points="526,1214 526,1243 609.9,1240.6 640.4,1210.5" stroke-width="2.2" fill="none"/>
<rect x="511.50" y="1062.90" width="29.00" height="72.40" rx="4.5" fill="#fff" stroke-width="2.6"/>
<line x1="540.5" y1="1066" x2="540.5" y2="1132" stroke-width="1.2"/>
<circle cx="523" cy="994" r="12.90" fill="#fff" stroke-width="2.2"/>
<line x1="514.14" y1="1002.86" x2="531.86" y2="985.14" stroke-width="5.2" stroke-linecap="butt"/>
<line x1="514.14" y1="1002.86" x2="531.86" y2="985.14" stroke="#fff" stroke-width="1.15" stroke-linecap="butt"/>
<circle cx="525" cy="1201" r="12.90" fill="#fff" stroke-width="2.2"/>
<line x1="516.14" y1="1209.86" x2="533.86" y2="1192.14" stroke-width="5.2" stroke-linecap="butt"/>
<line x1="516.14" y1="1209.86" x2="533.86" y2="1192.14" stroke="#fff" stroke-width="1.15" stroke-linecap="butt"/>
<polyline points="648.4,978 648.4,946.7 779.6,946.6 779.6,978.4" stroke-width="2.2" fill="none"/>
<line x1="648" y1="1004" x2="648" y2="1062" stroke-width="2.2"/>
<line x1="648" y1="1135" x2="648" y2="1186" stroke-width="2.2"/>
<polyline points="648.6,1212 648.6,1240.6 779.4,1240.5" stroke-width="2.2" fill="none"/>
<rect x="633.90" y="1062.30" width="27.30" height="72.10" rx="4.5" fill="#fff" stroke-width="2.6"/>
<circle cx="647.5" cy="991.2" r="12.90" fill="#fff" stroke-width="2.2"/>
<line x1="638.64" y1="1000.06" x2="656.36" y2="982.34" stroke-width="5.2" stroke-linecap="butt"/>
<line x1="638.64" y1="1000.06" x2="656.36" y2="982.34" stroke="#fff" stroke-width="1.15" stroke-linecap="butt"/>
<circle cx="647" cy="1199" r="12.90" fill="#fff" stroke-width="2.2"/>
<line x1="638.14" y1="1207.86" x2="655.86" y2="1190.14" stroke-width="5.2" stroke-linecap="butt"/>
<line x1="638.14" y1="1207.86" x2="655.86" y2="1190.14" stroke="#fff" stroke-width="1.15" stroke-linecap="butt"/>
<line x1="781.6" y1="1005" x2="781.6" y2="1061" stroke-width="5.6" stroke-linecap="butt"/>
<line x1="781.6" y1="1004" x2="781.6" y2="1062" stroke="#fff" stroke-width="1.1" stroke-linecap="butt"/>
<line x1="781.6" y1="1133" x2="781.6" y2="1187" stroke-width="5.6" stroke-linecap="butt"/>
<line x1="781.6" y1="1132" x2="781.6" y2="1188" stroke="#fff" stroke-width="1.1" stroke-linecap="butt"/>
<line x1="779.7" y1="1212" x2="779.7" y2="1240.5" stroke-width="2.3"/>
<line x1="783.5" y1="1212" x2="783.5" y2="1243" stroke-width="2.3"/>
<rect x="765.20" y="1061.10" width="32.10" height="72.00" rx="4.5" fill="#fff" stroke-width="2.6"/>
<circle cx="779.5" cy="992.3" r="13.90" fill="#fff" stroke-width="2.2"/>
<line x1="769.92" y1="1001.88" x2="789.08" y2="982.72" stroke-width="5.2" stroke-linecap="butt"/>
<line x1="769.92" y1="1001.88" x2="789.08" y2="982.72" stroke="#fff" stroke-width="1.15" stroke-linecap="butt"/>
<circle cx="780.7" cy="1199.3" r="14.90" fill="#fff" stroke-width="2.2"/>
<line x1="770.40" y1="1209.60" x2="791.00" y2="1189.00" stroke-width="5.2" stroke-linecap="butt"/>
<line x1="770.40" y1="1209.60" x2="791.00" y2="1189.00" stroke="#fff" stroke-width="1.15" stroke-linecap="butt"/>
<line x1="781.9" y1="978" x2="781.9" y2="1007" stroke="#fff" stroke-width="1.0" stroke-linecap="butt"/>
<line x1="781.6" y1="1184" x2="781.6" y2="1215" stroke="#fff" stroke-width="1.1" stroke-linecap="butt"/>
<line x1="821.3" y1="948.6" x2="788.6" y2="981.3" stroke-width="2.2"/>
</g>
<g fill="none" stroke="#141414" stroke-linecap="round" stroke-linejoin="round">
<path transform="translate(147.80,80.90) scale(1.0571,0.9900)" d="M0,10 L0,0 L4.1,0 C6,0 6.9,1.2 6.9,2.6 C6.9,4.1 5.9,5.2 4.1,5.2 L0,5.2 M3.6,5.2 L7,10" stroke-width="2.0" vector-effect="non-scaling-stroke"/><path transform="translate(164.10,80.90) scale(1.3125,0.9900)" d="M0,0.4 L3.2,0.4 L3.2,10" stroke-width="2.0" vector-effect="non-scaling-stroke"/>
<path transform="translate(150.20,100.80) scale(0.7500,0.9900)" d="M0,0.4 L3.2,0.4 L3.2,10" stroke-width="2.0" vector-effect="non-scaling-stroke"/><path transform="translate(159.00,100.80) scale(0.9873,0.9900)" d="M3.95,0 C6.4,0 7.9,2.2 7.9,5 C7.9,7.8 6.4,10 3.95,10 C1.5,10 0,7.8 0,5 C0,2.2 1.5,0 3.95,0 Z" stroke-width="2.0" vector-effect="non-scaling-stroke"/><path transform="translate(175.00,100.80) scale(0.9714,0.9900)" d="M0,10 L0,0 L4.1,0 C6,0 6.9,1.2 6.9,2.6 C6.9,4.1 5.9,5.2 4.1,5.2 L0,5.2 M3.6,5.2 L7,10" stroke-width="2.0" vector-effect="non-scaling-stroke"/>
<path transform="translate(228.30,80.30) scale(0.9429,0.9800)" d="M0,10 L0,0 L4.1,0 C6,0 6.9,1.2 6.9,2.6 C6.9,4.1 5.9,5.2 4.1,5.2 L0,5.2 M3.6,5.2 L7,10" stroke-width="2.0" vector-effect="non-scaling-stroke"/><path transform="translate(244.80,80.30) scale(0.9538,0.9800)" d="M0.3,2.6 C0.5,0.9 1.8,0 3.3,0 C5.1,0 6.3,1.2 6.3,2.8 C6.3,4.3 5.2,5.3 3.4,6.5 C1.4,7.8 0.2,8.8 0.1,10 L6.5,10" stroke-width="2.0" vector-effect="non-scaling-stroke"/>
<path transform="translate(229.80,100.30) scale(0.7500,0.9500)" d="M0,0.4 L3.2,0.4 L3.2,10" stroke-width="2.0" vector-effect="non-scaling-stroke"/><path transform="translate(238.60,100.30) scale(0.9747,0.9500)" d="M3.95,0 C6.4,0 7.9,2.2 7.9,5 C7.9,7.8 6.4,10 3.95,10 C1.5,10 0,7.8 0,5 C0,2.2 1.5,0 3.95,0 Z" stroke-width="2.0" vector-effect="non-scaling-stroke"/><path transform="translate(254.50,100.30) scale(0.9714,0.9500)" d="M0,10 L0,0 L4.1,0 C6,0 6.9,1.2 6.9,2.6 C6.9,4.1 5.9,5.2 4.1,5.2 L0,5.2 M3.6,5.2 L7,10" stroke-width="2.0" vector-effect="non-scaling-stroke"/>
<path transform="translate(305.40,80.00) scale(1.0571,0.9700)" d="M0,10 L0,0 L4.1,0 C6,0 6.9,1.2 6.9,2.6 C6.9,4.1 5.9,5.2 4.1,5.2 L0,5.2 M3.6,5.2 L7,10" stroke-width="2.0" vector-effect="non-scaling-stroke"/><path transform="translate(321.00,80.00) scale(1.0462,0.9700)" d="M0.4,1.9 C1,0.6 2.1,0 3.3,0 C5,0 6.1,1.1 6.1,2.5 C6.1,3.9 5.1,4.8 3.2,4.8 C5.4,4.8 6.5,5.9 6.5,7.4 C6.5,9 5.2,10 3.3,10 C1.8,10 0.6,9.2 0.1,8" stroke-width="2.0" vector-effect="non-scaling-stroke"/>
<path transform="translate(308.60,100.00) scale(0.9231,0.9700)" d="M0.3,2.6 C0.5,0.9 1.8,0 3.3,0 C5.1,0 6.3,1.2 6.3,2.8 C6.3,4.3 5.2,5.3 3.4,6.5 C1.4,7.8 0.2,8.8 0.1,10 L6.5,10" stroke-width="2.0" vector-effect="non-scaling-stroke"/><path transform="translate(321.00,100.00) scale(1.0923,0.9700)" d="M0.3,2.6 C0.5,0.9 1.8,0 3.3,0 C5.1,0 6.3,1.2 6.3,2.8 C6.3,4.3 5.2,5.3 3.4,6.5 C1.4,7.8 0.2,8.8 0.1,10 L6.5,10" stroke-width="2.0" vector-effect="non-scaling-stroke"/><path transform="translate(334.50,100.00) scale(0.9714,0.9700)" d="M0,10 L0,0 L4.1,0 C6,0 6.9,1.2 6.9,2.6 C6.9,4.1 5.9,5.2 4.1,5.2 L0,5.2 M3.6,5.2 L7,10" stroke-width="2.0" vector-effect="non-scaling-stroke"/>
<path transform="translate(382.60,78.90) scale(1.1429,0.9700)" d="M0,10 L0,0 L4.1,0 C6,0 6.9,1.2 6.9,2.6 C6.9,4.1 5.9,5.2 4.1,5.2 L0,5.2 M3.6,5.2 L7,10" stroke-width="2.0" vector-effect="non-scaling-stroke"/><path transform="translate(399.60,78.90) scale(0.8824,0.9700)" d="M5,10 L5,0 L0,6.9 L6.8,6.9" stroke-width="2.0" vector-effect="non-scaling-stroke"/>
<path transform="translate(384.30,99.40) scale(1.1077,0.9500)" d="M0.3,2.6 C0.5,0.9 1.8,0 3.3,0 C5.1,0 6.3,1.2 6.3,2.8 C6.3,4.3 5.2,5.3 3.4,6.5 C1.4,7.8 0.2,8.8 0.1,10 L6.5,10" stroke-width="2.0" vector-effect="non-scaling-stroke"/><path transform="translate(397.30,99.40) scale(0.9077,0.9500)" d="M0.3,2.6 C0.5,0.9 1.8,0 3.3,0 C5.1,0 6.3,1.2 6.3,2.8 C6.3,4.3 5.2,5.3 3.4,6.5 C1.4,7.8 0.2,8.8 0.1,10 L6.5,10" stroke-width="2.0" vector-effect="non-scaling-stroke"/><path transform="translate(409.90,99.40) scale(1.0571,0.9500)" d="M0,10 L0,0 L4.1,0 C6,0 6.9,1.2 6.9,2.6 C6.9,4.1 5.9,5.2 4.1,5.2 L0,5.2 M3.6,5.2 L7,10" stroke-width="2.0" vector-effect="non-scaling-stroke"/>
<path transform="translate(466.60,77.20) scale(1.0143,0.9800)" d="M0,10 L0,0 L4.1,0 C6,0 6.9,1.2 6.9,2.6 C6.9,4.1 5.9,5.2 4.1,5.2 L0,5.2 M3.6,5.2 L7,10" stroke-width="2.0" vector-effect="non-scaling-stroke"/><path transform="translate(481.90,77.20) scale(0.7231,0.9800)" d="M5.9,0 L1.1,0 L0.6,4.7 C1.3,4 2.3,3.6 3.3,3.6 C5.2,3.6 6.5,4.9 6.5,6.8 C6.5,8.7 5.1,10 3.3,10 C1.8,10 0.6,9.3 0.1,8.1" stroke-width="2.0" vector-effect="non-scaling-stroke"/>
<path transform="translate(469.20,97.80) scale(0.8382,0.9700)" d="M5,10 L5,0 L0,6.9 L6.8,6.9" stroke-width="2.0" vector-effect="non-scaling-stroke"/><path transform="translate(480.40,97.80) scale(0.7031,0.9700)" d="M0,0 L6.4,0 C4.4,2.6 2.9,6.2 2.4,10" stroke-width="2.0" vector-effect="non-scaling-stroke"/><path transform="translate(490.40,97.80) scale(0.9286,0.9700)" d="M0,10 L0,0 L4.1,0 C6,0 6.9,1.2 6.9,2.6 C6.9,4.1 5.9,5.2 4.1,5.2 L0,5.2 M3.6,5.2 L7,10" stroke-width="2.0" vector-effect="non-scaling-stroke"/>
<path transform="translate(540.00,77.80) scale(0.8000,0.9500)" d="M0,10 L0,0 L4.1,0 C6,0 6.9,1.2 6.9,2.6 C6.9,4.1 5.9,5.2 4.1,5.2 L0,5.2 M3.6,5.2 L7,10" stroke-width="2.0" vector-effect="non-scaling-stroke"/><path transform="translate(556.70,77.80) scale(1.2576,0.9500)" d="M6,1.5 C5.4,0.5 4.5,0 3.5,0 C1.3,0 0.1,2.4 0.1,5.6 C0.1,8.4 1.4,10 3.4,10 C5.3,10 6.6,8.6 6.6,6.7 C6.6,4.8 5.3,3.6 3.5,3.6 C1.9,3.6 0.5,4.6 0.1,6.1" stroke-width="2.0" vector-effect="non-scaling-stroke"/>
<path transform="translate(541.20,97.20) scale(1.0000,1.0300)" d="M5,10 L5,0 L0,6.9 L6.8,6.9" stroke-width="2.0" vector-effect="non-scaling-stroke"/><path transform="translate(555.30,97.20) scale(1.2969,1.0300)" d="M0,0 L6.4,0 C4.4,2.6 2.9,6.2 2.4,10" stroke-width="2.0" vector-effect="non-scaling-stroke"/><path transform="translate(570.80,97.20) scale(1.1000,1.0300)" d="M0,10 L0,0 L4.1,0 C6,0 6.9,1.2 6.9,2.6 C6.9,4.1 5.9,5.2 4.1,5.2 L0,5.2 M3.6,5.2 L7,10" stroke-width="2.0" vector-effect="non-scaling-stroke"/>
<path transform="translate(624.30,76.30) scale(0.9714,0.9300)" d="M0,10 L0,0 L4.1,0 C6,0 6.9,1.2 6.9,2.6 C6.9,4.1 5.9,5.2 4.1,5.2 L0,5.2 M3.6,5.2 L7,10" stroke-width="2.0" vector-effect="non-scaling-stroke"/><path transform="translate(640.20,76.30) scale(0.9531,0.9300)" d="M0,0 L6.4,0 C4.4,2.6 2.9,6.2 2.4,10" stroke-width="2.0" vector-effect="non-scaling-stroke"/>
<path transform="translate(625.70,95.70) scale(0.8125,0.9300)" d="M0,0.4 L3.2,0.4 L3.2,10" stroke-width="2.0" vector-effect="non-scaling-stroke"/><path transform="translate(634.20,95.70) scale(0.8101,0.9300)" d="M3.95,0 C6.4,0 7.9,2.2 7.9,5 C7.9,7.8 6.4,10 3.95,10 C1.5,10 0,7.8 0,5 C0,2.2 1.5,0 3.95,0 Z" stroke-width="2.0" vector-effect="non-scaling-stroke"/><path transform="translate(646.20,95.70) scale(0.7722,0.9300)" d="M3.95,0 C6.4,0 7.9,2.2 7.9,5 C7.9,7.8 6.4,10 3.95,10 C1.5,10 0,7.8 0,5 C0,2.2 1.5,0 3.95,0 Z" stroke-width="2.0" vector-effect="non-scaling-stroke"/><path transform="translate(659.20,95.70) scale(1.0714,0.9300)" d="M0,10 L0,0 L4.1,0 C6,0 6.9,1.2 6.9,2.6 C6.9,4.1 5.9,5.2 4.1,5.2 L0,5.2 M3.6,5.2 L7,10" stroke-width="2.0" vector-effect="non-scaling-stroke"/>
<path transform="translate(701.80,75.50) scale(0.9714,0.9600)" d="M0,10 L0,0 L4.1,0 C6,0 6.9,1.2 6.9,2.6 C6.9,4.1 5.9,5.2 4.1,5.2 L0,5.2 M3.6,5.2 L7,10" stroke-width="2.0" vector-effect="non-scaling-stroke"/><path transform="translate(717.00,75.50) scale(0.9697,0.9600)" d="M3.3,4.7 C1.6,4.7 0.5,3.7 0.5,2.35 C0.5,1 1.6,0 3.3,0 C5,0 6.1,1 6.1,2.35 C6.1,3.7 5,4.7 3.3,4.7 C1.3,4.7 0,5.8 0,7.35 C0,8.9 1.4,10 3.3,10 C5.2,10 6.6,8.9 6.6,7.35 C6.6,5.8 5.3,4.7 3.3,4.7 Z" stroke-width="2.0" vector-effect="non-scaling-stroke"/>
<path transform="translate(703.50,95.50) scale(0.6875,0.9600)" d="M0,0.4 L3.2,0.4 L3.2,10" stroke-width="2.0" vector-effect="non-scaling-stroke"/><path transform="translate(712.20,95.50) scale(0.6456,0.9600)" d="M3.95,0 C6.4,0 7.9,2.2 7.9,5 C7.9,7.8 6.4,10 3.95,10 C1.5,10 0,7.8 0,5 C0,2.2 1.5,0 3.95,0 Z" stroke-width="2.0" vector-effect="non-scaling-stroke"/><path transform="translate(724.10,95.50) scale(0.9367,0.9600)" d="M3.95,0 C6.4,0 7.9,2.2 7.9,5 C7.9,7.8 6.4,10 3.95,10 C1.5,10 0,7.8 0,5 C0,2.2 1.5,0 3.95,0 Z" stroke-width="2.0" vector-effect="non-scaling-stroke"/><path transform="translate(738.40,95.50) scale(1.0429,0.9600)" d="M0,10 L0,0 L4.1,0 C6,0 6.9,1.2 6.9,2.6 C6.9,4.1 5.9,5.2 4.1,5.2 L0,5.2 M3.6,5.2 L7,10" stroke-width="2.0" vector-effect="non-scaling-stroke"/>
<path transform="translate(139.45,386.45) scale(1.3750,0.9800)" d="M0,0.4 L3.2,0.4 L3.2,10" stroke-width="1.9" vector-effect="non-scaling-stroke"/>
<path transform="translate(218.75,386.45) scale(1.1692,0.9800)" d="M0.3,2.6 C0.5,0.9 1.8,0 3.3,0 C5.1,0 6.3,1.2 6.3,2.8 C6.3,4.3 5.2,5.3 3.4,6.5 C1.4,7.8 0.2,8.8 0.1,10 L6.5,10" stroke-width="1.9" vector-effect="non-scaling-stroke"/>
<path transform="translate(295.95,385.45) scale(1.1692,1.0600)" d="M0.4,1.9 C1,0.6 2.1,0 3.3,0 C5,0 6.1,1.1 6.1,2.5 C6.1,3.9 5.1,4.8 3.2,4.8 C5.4,4.8 6.5,5.9 6.5,7.4 C6.5,9 5.2,10 3.3,10 C1.8,10 0.6,9.2 0.1,8" stroke-width="1.9" vector-effect="non-scaling-stroke"/>
<path transform="translate(371.55,384.35) scale(1.2794,0.9100)" d="M5,10 L5,0 L0,6.9 L6.8,6.9" stroke-width="1.9" vector-effect="non-scaling-stroke"/>
<path transform="translate(453.95,383.55) scale(1.1846,0.9700)" d="M5.9,0 L1.1,0 L0.6,4.7 C1.3,4 2.3,3.6 3.3,3.6 C5.2,3.6 6.5,4.9 6.5,6.8 C6.5,8.7 5.1,10 3.3,10 C1.8,10 0.6,9.3 0.1,8.1" stroke-width="1.9" vector-effect="non-scaling-stroke"/>
<path transform="translate(530.15,383.15) scale(1.0000,1.0100)" d="M6,1.5 C5.4,0.5 4.5,0 3.5,0 C1.3,0 0.1,2.4 0.1,5.6 C0.1,8.4 1.4,10 3.4,10 C5.3,10 6.6,8.6 6.6,6.7 C6.6,4.8 5.3,3.6 3.5,3.6 C1.9,3.6 0.5,4.6 0.1,6.1" stroke-width="1.9" vector-effect="non-scaling-stroke"/>
<path transform="translate(611.45,382.15) scale(1.0156,0.8900)" d="M0,0 L6.4,0 C4.4,2.6 2.9,6.2 2.4,10" stroke-width="1.9" vector-effect="non-scaling-stroke"/>
<path transform="translate(685.45,381.75) scale(1.0000,0.9300)" d="M3.3,4.7 C1.6,4.7 0.5,3.7 0.5,2.35 C0.5,1 1.6,0 3.3,0 C5,0 6.1,1 6.1,2.35 C6.1,3.7 5,4.7 3.3,4.7 C1.3,4.7 0,5.8 0,7.35 C0,8.9 1.4,10 3.3,10 C5.2,10 6.6,8.9 6.6,7.35 C6.6,5.8 5.3,4.7 3.3,4.7 Z" stroke-width="1.9" vector-effect="non-scaling-stroke"/>
<path transform="translate(152.05,559.85) scale(1.0528,0.9400)" d="M0,10 L0,0 L4.1,0 C6,0 6.9,1.2 6.9,2.6 C6.9,4.1 5.9,5.2 4.1,5.2 L0,5.2 M3.6,5.2 L7,10" stroke-width="2.1" vector-effect="non-scaling-stroke"/><path transform="translate(169.94,559.85) scale(0.9400,0.9400)" d="M0,0.4 L3.2,0.4 L3.2,10" stroke-width="2.1" vector-effect="non-scaling-stroke"/>
<path transform="translate(231.35,559.85) scale(1.0528,0.9400)" d="M0,10 L0,0 L4.1,0 C6,0 6.9,1.2 6.9,2.6 C6.9,4.1 5.9,5.2 4.1,5.2 L0,5.2 M3.6,5.2 L7,10" stroke-width="2.1" vector-effect="non-scaling-stroke"/><path transform="translate(245.91,559.85) scale(1.0528,0.9400)" d="M0.3,2.6 C0.5,0.9 1.8,0 3.3,0 C5.1,0 6.3,1.2 6.3,2.8 C6.3,4.3 5.2,5.3 3.4,6.5 C1.4,7.8 0.2,8.8 0.1,10 L6.5,10" stroke-width="2.1" vector-effect="non-scaling-stroke"/>
<path transform="translate(310.45,558.05) scale(1.0864,0.9700)" d="M0,10 L0,0 L4.1,0 C6,0 6.9,1.2 6.9,2.6 C6.9,4.1 5.9,5.2 4.1,5.2 L0,5.2 M3.6,5.2 L7,10" stroke-width="2.1" vector-effect="non-scaling-stroke"/><path transform="translate(326.59,558.05) scale(1.0864,0.9700)" d="M0.4,1.9 C1,0.6 2.1,0 3.3,0 C5,0 6.1,1.1 6.1,2.5 C6.1,3.9 5.1,4.8 3.2,4.8 C5.4,4.8 6.5,5.9 6.5,7.4 C6.5,9 5.2,10 3.3,10 C1.8,10 0.6,9.2 0.1,8" stroke-width="2.1" vector-effect="non-scaling-stroke"/>
<path transform="translate(388.05,558.05) scale(1.0864,0.9700)" d="M0,10 L0,0 L4.1,0 C6,0 6.9,1.2 6.9,2.6 C6.9,4.1 5.9,5.2 4.1,5.2 L0,5.2 M3.6,5.2 L7,10" stroke-width="2.1" vector-effect="non-scaling-stroke"/><path transform="translate(403.26,558.05) scale(1.0864,0.9700)" d="M5,10 L5,0 L0,6.9 L6.8,6.9" stroke-width="2.1" vector-effect="non-scaling-stroke"/>
<path transform="translate(465.55,556.55) scale(1.0864,0.9700)" d="M0,10 L0,0 L4.1,0 C6,0 6.9,1.2 6.9,2.6 C6.9,4.1 5.9,5.2 4.1,5.2 L0,5.2 M3.6,5.2 L7,10" stroke-width="2.1" vector-effect="non-scaling-stroke"/><path transform="translate(480.89,556.55) scale(1.0864,0.9700)" d="M5.9,0 L1.1,0 L0.6,4.7 C1.3,4 2.3,3.6 3.3,3.6 C5.2,3.6 6.5,4.9 6.5,6.8 C6.5,8.7 5.1,10 3.3,10 C1.8,10 0.6,9.3 0.1,8.1" stroke-width="2.1" vector-effect="non-scaling-stroke"/>
<path transform="translate(543.95,556.55) scale(1.0864,0.9700)" d="M0,10 L0,0 L4.1,0 C6,0 6.9,1.2 6.9,2.6 C6.9,4.1 5.9,5.2 4.1,5.2 L0,5.2 M3.6,5.2 L7,10" stroke-width="2.1" vector-effect="non-scaling-stroke"/><path transform="translate(559.48,556.55) scale(1.0864,0.9700)" d="M6,1.5 C5.4,0.5 4.5,0 3.5,0 C1.3,0 0.1,2.4 0.1,5.6 C0.1,8.4 1.4,10 3.4,10 C5.3,10 6.6,8.6 6.6,6.7 C6.6,4.8 5.3,3.6 3.5,3.6 C1.9,3.6 0.5,4.6 0.1,6.1" stroke-width="2.1" vector-effect="non-scaling-stroke"/>
<path transform="translate(622.85,555.15) scale(1.0864,0.9700)" d="M0,10 L0,0 L4.1,0 C6,0 6.9,1.2 6.9,2.6 C6.9,4.1 5.9,5.2 4.1,5.2 L0,5.2 M3.6,5.2 L7,10" stroke-width="2.1" vector-effect="non-scaling-stroke"/><path transform="translate(637.20,555.15) scale(1.0864,0.9700)" d="M0,0 L6.4,0 C4.4,2.6 2.9,6.2 2.4,10" stroke-width="2.1" vector-effect="non-scaling-stroke"/>
<path transform="translate(699.05,555.05) scale(1.0864,0.9700)" d="M0,10 L0,0 L4.1,0 C6,0 6.9,1.2 6.9,2.6 C6.9,4.1 5.9,5.2 4.1,5.2 L0,5.2 M3.6,5.2 L7,10" stroke-width="2.1" vector-effect="non-scaling-stroke"/><path transform="translate(714.58,555.05) scale(1.0864,0.9700)" d="M3.3,4.7 C1.6,4.7 0.5,3.7 0.5,2.35 C0.5,1 1.6,0 3.3,0 C5,0 6.1,1 6.1,2.35 C6.1,3.7 5,4.7 3.3,4.7 C1.3,4.7 0,5.8 0,7.35 C0,8.9 1.4,10 3.3,10 C5.2,10 6.6,8.9 6.6,7.35 C6.6,5.8 5.3,4.7 3.3,4.7 Z" stroke-width="2.1" vector-effect="non-scaling-stroke"/>
<path transform="translate(143.75,820.95) scale(1.0606,1.0000)" d="M0.6,8.5 C1.2,9.5 2.1,10 3.1,10 C5.3,10 6.5,7.6 6.5,4.4 C6.5,1.6 5.2,0 3.2,0 C1.3,0 0,1.4 0,3.3 C0,5.2 1.3,6.4 3.1,6.4 C4.7,6.4 6.1,5.4 6.5,3.9" stroke-width="1.9" vector-effect="non-scaling-stroke"/>
<path transform="translate(216.35,820.95) scale(1.1562,1.0000)" d="M0,0.4 L3.2,0.4 L3.2,10" stroke-width="1.9" vector-effect="non-scaling-stroke"/><path transform="translate(223.45,820.95) scale(1.1139,1.0000)" d="M3.95,0 C6.4,0 7.9,2.2 7.9,5 C7.9,7.8 6.4,10 3.95,10 C1.5,10 0,7.8 0,5 C0,2.2 1.5,0 3.95,0 Z" stroke-width="1.9" vector-effect="non-scaling-stroke"/>
<path transform="translate(297.85,820.95) scale(1.1250,0.9500)" d="M0,0.4 L3.2,0.4 L3.2,10" stroke-width="1.9" vector-effect="non-scaling-stroke"/><path transform="translate(305.65,820.95) scale(1.1563,0.9500)" d="M0,0.4 L3.2,0.4 L3.2,10" stroke-width="1.9" vector-effect="non-scaling-stroke"/>
<path transform="translate(371.55,819.35) scale(1.1562,1.0000)" d="M0,0.4 L3.2,0.4 L3.2,10" stroke-width="1.9" vector-effect="non-scaling-stroke"/><path transform="translate(379.35,819.35) scale(1.2462,1.0000)" d="M0.3,2.6 C0.5,0.9 1.8,0 3.3,0 C5.1,0 6.3,1.2 6.3,2.8 C6.3,4.3 5.2,5.3 3.4,6.5 C1.4,7.8 0.2,8.8 0.1,10 L6.5,10" stroke-width="1.9" vector-effect="non-scaling-stroke"/>
<path transform="translate(451.95,817.95) scale(1.1250,0.9800)" d="M0,0.4 L3.2,0.4 L3.2,10" stroke-width="1.9" vector-effect="non-scaling-stroke"/><path transform="translate(458.65,817.95) scale(1.2462,0.9800)" d="M0.4,1.9 C1,0.6 2.1,0 3.3,0 C5,0 6.1,1.1 6.1,2.5 C6.1,3.9 5.1,4.8 3.2,4.8 C5.4,4.8 6.5,5.9 6.5,7.4 C6.5,9 5.2,10 3.3,10 C1.8,10 0.6,9.2 0.1,8" stroke-width="1.9" vector-effect="non-scaling-stroke"/>
<path transform="translate(529.25,819.25) scale(0.9688,0.8900)" d="M0,0.4 L3.2,0.4 L3.2,10" stroke-width="2.5" vector-effect="non-scaling-stroke"/><path transform="translate(535.95,819.25) scale(1.1029,0.8900)" d="M5,10 L5,0 L0,6.9 L6.8,6.9" stroke-width="2.5" vector-effect="non-scaling-stroke"/>
<path transform="translate(607.95,816.35) scale(1.1563,0.9900)" d="M0,0.4 L3.2,0.4 L3.2,10" stroke-width="1.9" vector-effect="non-scaling-stroke"/><path transform="translate(615.65,816.35) scale(1.1231,0.9900)" d="M5.9,0 L1.1,0 L0.6,4.7 C1.3,4 2.3,3.6 3.3,3.6 C5.2,3.6 6.5,4.9 6.5,6.8 C6.5,8.7 5.1,10 3.3,10 C1.8,10 0.6,9.3 0.1,8.1" stroke-width="1.9" vector-effect="non-scaling-stroke"/>
<path transform="translate(682.65,815.75) scale(1.1875,1.0200)" d="M0,0.4 L3.2,0.4 L3.2,10" stroke-width="1.9" vector-effect="non-scaling-stroke"/><path transform="translate(689.75,815.75) scale(1.2121,1.0200)" d="M6,1.5 C5.4,0.5 4.5,0 3.5,0 C1.3,0 0.1,2.4 0.1,5.6 C0.1,8.4 1.4,10 3.4,10 C5.3,10 6.6,8.6 6.6,6.7 C6.6,4.8 5.3,3.6 3.5,3.6 C1.9,3.6 0.5,4.6 0.1,6.1" stroke-width="1.9" vector-effect="non-scaling-stroke"/>
<path transform="translate(30.50,957.40) scale(1.6562,0.9100)" d="M0,0.4 L3.2,0.4 L3.2,10" stroke-width="2.2" vector-effect="non-scaling-stroke"/>
<path transform="translate(191.45,956.35) scale(0.9538,0.9900)" d="M0.4,1.9 C1,0.6 2.1,0 3.3,0 C5,0 6.1,1.1 6.1,2.5 C6.1,3.9 5.1,4.8 3.2,4.8 C5.4,4.8 6.5,5.9 6.5,7.4 C6.5,9 5.2,10 3.3,10 C1.8,10 0.6,9.2 0.1,8" stroke-width="2.3" vector-effect="non-scaling-stroke"/>
<path transform="translate(77.50,1096.80) scale(1.0000,0.9600)" d="M0,10 L0,0 L4.1,0 C6,0 6.9,1.2 6.9,2.6 C6.9,4.1 5.9,5.2 4.1,5.2 L0,5.2 M3.6,5.2 L7,10" stroke-width="2.4" vector-effect="non-scaling-stroke"/><path transform="translate(94.20,1096.80) scale(1.3125,0.9600)" d="M0,0.4 L3.2,0.4 L3.2,10" stroke-width="2.4" vector-effect="non-scaling-stroke"/>
<path transform="translate(205.45,1095.15) scale(0.8857,1.0000)" d="M0,10 L0,0 L4.1,0 C6,0 6.9,1.2 6.9,2.6 C6.9,4.1 5.9,5.2 4.1,5.2 L0,5.2 M3.6,5.2 L7,10" stroke-width="2.5" vector-effect="non-scaling-stroke"/><path transform="translate(219.25,1095.15) scale(1.0000,1.0000)" d="M0.4,1.9 C1,0.6 2.1,0 3.3,0 C5,0 6.1,1.1 6.1,2.5 C6.1,3.9 5.1,4.8 3.2,4.8 C5.4,4.8 6.5,5.9 6.5,7.4 C6.5,9 5.2,10 3.3,10 C1.8,10 0.6,9.2 0.1,8" stroke-width="2.5" vector-effect="non-scaling-stroke"/>
<path transform="translate(74.80,1218.30) scale(1.0000,0.8000)" d="M0.6,8.5 C1.2,9.5 2.1,10 3.1,10 C5.3,10 6.5,7.6 6.5,4.4 C6.5,1.6 5.2,0 3.2,0 C1.3,0 0,1.4 0,3.3 C0,5.2 1.3,6.4 3.1,6.4 C4.7,6.4 6.1,5.4 6.5,3.9" stroke-width="2.4" vector-effect="non-scaling-stroke"/>
<path transform="translate(143.85,1217.65) scale(1.4063,0.8700)" d="M0,0.4 L3.2,0.4 L3.2,10" stroke-width="2.3" vector-effect="non-scaling-stroke"/><path transform="translate(153.65,1217.65) scale(1.4688,0.8700)" d="M0,0.4 L3.2,0.4 L3.2,10" stroke-width="2.3" vector-effect="non-scaling-stroke"/>
<path transform="translate(105.00,1276.40) scale(1.7188,0.9900)" d="M0,0.4 L3.2,0.4 L3.2,10" stroke-width="2.0" vector-effect="non-scaling-stroke"/><path transform="translate(129.70,1276.40) scale(1.3529,0.9900)" d="M0,5.7 L3.4,5.7" stroke-width="2.0" vector-effect="non-scaling-stroke"/><path transform="translate(149.90,1276.40) scale(1.0769,0.9900)" d="M0.4,1.9 C1,0.6 2.1,0 3.3,0 C5,0 6.1,1.1 6.1,2.5 C6.1,3.9 5.1,4.8 3.2,4.8 C5.4,4.8 6.5,5.9 6.5,7.4 C6.5,9 5.2,10 3.3,10 C1.8,10 0.6,9.2 0.1,8" stroke-width="2.0" vector-effect="non-scaling-stroke"/>
<path transform="translate(109.30,1303.60) scale(0.9846,0.9800)" d="M0.4,1.9 C1,0.6 2.1,0 3.3,0 C5,0 6.1,1.1 6.1,2.5 C6.1,3.9 5.1,4.8 3.2,4.8 C5.4,4.8 6.5,5.9 6.5,7.4 C6.5,9 5.2,10 3.3,10 C1.8,10 0.6,9.2 0.1,8" stroke-width="2.2" vector-effect="non-scaling-stroke"/><path transform="translate(125.70,1303.60) scale(1.0615,0.9800)" d="M0.3,2.6 C0.5,0.9 1.8,0 3.3,0 C5.1,0 6.3,1.2 6.3,2.8 C6.3,4.3 5.2,5.3 3.4,6.5 C1.4,7.8 0.2,8.8 0.1,10 L6.5,10" stroke-width="2.2" vector-effect="non-scaling-stroke"/><path transform="translate(142.60,1303.60) scale(1.0286,0.9800)" d="M0,10 L0,0 L4.1,0 C6,0 6.9,1.2 6.9,2.6 C6.9,4.1 5.9,5.2 4.1,5.2 L0,5.2 M3.6,5.2 L7,10" stroke-width="2.2" vector-effect="non-scaling-stroke"/>
<path transform="translate(249.70,984.00) scale(1.3750,0.9800)" d="M0,0.4 L3.2,0.4 L3.2,10" stroke-width="2.2" vector-effect="non-scaling-stroke"/>
<path transform="translate(381.20,982.50) scale(1.1029,0.9800)" d="M5,10 L5,0 L0,6.9 L6.8,6.9" stroke-width="2.4" vector-effect="non-scaling-stroke"/>
<path transform="translate(309.75,1094.95) scale(1.0143,0.9700)" d="M0,10 L0,0 L4.1,0 C6,0 6.9,1.2 6.9,2.6 C6.9,4.1 5.9,5.2 4.1,5.2 L0,5.2 M3.6,5.2 L7,10" stroke-width="2.5" vector-effect="non-scaling-stroke"/><path transform="translate(324.95,1094.95) scale(0.8437,0.9700)" d="M0,0.4 L3.2,0.4 L3.2,10" stroke-width="2.5" vector-effect="non-scaling-stroke"/>
<path transform="translate(439.20,1093.60) scale(0.9000,0.9800)" d="M0,10 L0,0 L4.1,0 C6,0 6.9,1.2 6.9,2.6 C6.9,4.1 5.9,5.2 4.1,5.2 L0,5.2 M3.6,5.2 L7,10" stroke-width="2.4" vector-effect="non-scaling-stroke"/><path transform="translate(451.60,1093.60) scale(0.9265,0.9800)" d="M5,10 L5,0 L0,6.9 L6.8,6.9" stroke-width="2.4" vector-effect="non-scaling-stroke"/>
<path transform="translate(244.80,1217.70) scale(1.2121,0.7900)" d="M0.6,8.5 C1.2,9.5 2.1,10 3.1,10 C5.3,10 6.5,7.6 6.5,4.4 C6.5,1.6 5.2,0 3.2,0 C1.3,0 0,1.4 0,3.3 C0,5.2 1.3,6.4 3.1,6.4 C4.7,6.4 6.1,5.4 6.5,3.9" stroke-width="2.4" vector-effect="non-scaling-stroke"/>
<path transform="translate(375.40,1216.50) scale(1.4062,0.8900)" d="M0,0.4 L3.2,0.4 L3.2,10" stroke-width="2.0" vector-effect="non-scaling-stroke"/><path transform="translate(383.30,1216.50) scale(0.9231,0.8900)" d="M0.3,2.6 C0.5,0.9 1.8,0 3.3,0 C5.1,0 6.3,1.2 6.3,2.8 C6.3,4.3 5.2,5.3 3.4,6.5 C1.4,7.8 0.2,8.8 0.1,10 L6.5,10" stroke-width="2.0" vector-effect="non-scaling-stroke"/>
<path transform="translate(332.05,1275.05) scale(1.6875,0.9900)" d="M0,0.4 L3.2,0.4 L3.2,10" stroke-width="2.1" vector-effect="non-scaling-stroke"/><path transform="translate(356.55,1275.05) scale(1.2941,0.9900)" d="M0,5.7 L3.4,5.7" stroke-width="2.1" vector-effect="non-scaling-stroke"/><path transform="translate(380.05,1275.05) scale(1.0455,0.9900)" d="M0.6,8.5 C1.2,9.5 2.1,10 3.1,10 C5.3,10 6.5,7.6 6.5,4.4 C6.5,1.6 5.2,0 3.2,0 C1.3,0 0,1.4 0,3.3 C0,5.2 1.3,6.4 3.1,6.4 C4.7,6.4 6.1,5.4 6.5,3.9" stroke-width="2.1" vector-effect="non-scaling-stroke"/>
<path transform="translate(326.75,1301.75) scale(0.9848,0.9500)" d="M6,1.5 C5.4,0.5 4.5,0 3.5,0 C1.3,0 0.1,2.4 0.1,5.6 C0.1,8.4 1.4,10 3.4,10 C5.3,10 6.6,8.6 6.6,6.7 C6.6,4.8 5.3,3.6 3.5,3.6 C1.9,3.6 0.5,4.6 0.1,6.1" stroke-width="2.5" vector-effect="non-scaling-stroke"/><path transform="translate(338.75,1301.75) scale(1.2500,0.9500)" d="M1.2,8.6 L1.2,10 C1.2,11 0.8,11.8 0.2,12.4" stroke-width="2.5" vector-effect="non-scaling-stroke"/><path transform="translate(348.25,1301.75) scale(0.9848,0.9500)" d="M3.3,4.7 C1.6,4.7 0.5,3.7 0.5,2.35 C0.5,1 1.6,0 3.3,0 C5,0 6.1,1 6.1,2.35 C6.1,3.7 5,4.7 3.3,4.7 C1.3,4.7 0,5.8 0,7.35 C0,8.9 1.4,10 3.3,10 C5.2,10 6.6,8.9 6.6,7.35 C6.6,5.8 5.3,4.7 3.3,4.7 Z" stroke-width="2.5" vector-effect="non-scaling-stroke"/><path transform="translate(361.25,1301.75) scale(1.0156,0.9500)" d="M0,0 L6.4,0 C4.4,2.6 2.9,6.2 2.4,10" stroke-width="2.5" vector-effect="non-scaling-stroke"/><path transform="translate(374.25,1301.75) scale(0.9077,0.9500)" d="M5.9,0 L1.1,0 L0.6,4.7 C1.3,4 2.3,3.6 3.3,3.6 C5.2,3.6 6.5,4.9 6.5,6.8 C6.5,8.7 5.1,10 3.3,10 C1.8,10 0.6,9.3 0.1,8.1" stroke-width="2.5" vector-effect="non-scaling-stroke"/><path transform="translate(389.65,1301.75) scale(1.0714,0.9500)" d="M0,10 L0,0 L4.1,0 C6,0 6.9,1.2 6.9,2.6 C6.9,4.1 5.9,5.2 4.1,5.2 L0,5.2 M3.6,5.2 L7,10" stroke-width="2.5" vector-effect="non-scaling-stroke"/>
<path transform="translate(484.30,982.90) scale(1.2794,0.9400)" d="M5,10 L5,0 L0,6.9 L6.8,6.9" stroke-width="2.8" vector-effect="non-scaling-stroke"/>
<path transform="translate(547.50,1092.50) scale(0.6429,0.9900)" d="M0,10 L0,0 L4.1,0 C6,0 6.9,1.2 6.9,2.6 C6.9,4.1 5.9,5.2 4.1,5.2 L0,5.2 M3.6,5.2 L7,10" stroke-width="2.4" vector-effect="non-scaling-stroke"/><path transform="translate(558.10,1092.50) scale(0.9265,0.9900)" d="M5,10 L5,0 L0,6.9 L6.8,6.9" stroke-width="2.4" vector-effect="non-scaling-stroke"/>
<path transform="translate(492.95,1215.35) scale(0.9687,0.9100)" d="M0,0.4 L3.2,0.4 L3.2,10" stroke-width="2.3" vector-effect="non-scaling-stroke"/><path transform="translate(500.65,1215.35) scale(1.2923,0.9100)" d="M0.3,2.6 C0.5,0.9 1.8,0 3.3,0 C5.1,0 6.3,1.2 6.3,2.8 C6.3,4.3 5.2,5.3 3.4,6.5 C1.4,7.8 0.2,8.8 0.1,10 L6.5,10" stroke-width="2.3" vector-effect="non-scaling-stroke"/>
<path transform="translate(616.15,980.05) scale(0.8939,0.9500)" d="M6,1.5 C5.4,0.5 4.5,0 3.5,0 C1.3,0 0.1,2.4 0.1,5.6 C0.1,8.4 1.4,10 3.4,10 C5.3,10 6.6,8.6 6.6,6.7 C6.6,4.8 5.3,3.6 3.5,3.6 C1.9,3.6 0.5,4.6 0.1,6.1" stroke-width="2.5" vector-effect="non-scaling-stroke"/>
<path transform="translate(668.35,1090.50) scale(1.1071,1.0100)" d="M0,10 L0,0 L4.1,0 C6,0 6.9,1.2 6.9,2.6 C6.9,4.1 5.9,5.2 4.1,5.2 L0,5.2 M3.6,5.2 L7,10" stroke-width="2.6" vector-effect="non-scaling-stroke"/><path transform="translate(682.70,1090.50) scale(1.1061,1.0100)" d="M6,1.5 C5.4,0.5 4.5,0 3.5,0 C1.3,0 0.1,2.4 0.1,5.6 C0.1,8.4 1.4,10 3.4,10 C5.3,10 6.6,8.6 6.6,6.7 C6.6,4.8 5.3,3.6 3.5,3.6 C1.9,3.6 0.5,4.6 0.1,6.1" stroke-width="2.6" vector-effect="non-scaling-stroke"/>
<path transform="translate(591.75,1213.25) scale(1.0625,0.9000)" d="M0,0.4 L3.2,0.4 L3.2,10" stroke-width="2.7" vector-effect="non-scaling-stroke"/><path transform="translate(599.35,1213.25) scale(1.5147,0.9000)" d="M5,10 L5,0 L0,6.9 L6.8,6.9" stroke-width="2.7" vector-effect="non-scaling-stroke"/>
<path transform="translate(806.55,980.05) scale(1.1212,0.9900)" d="M3.3,4.7 C1.6,4.7 0.5,3.7 0.5,2.35 C0.5,1 1.6,0 3.3,0 C5,0 6.1,1 6.1,2.35 C6.1,3.7 5,4.7 3.3,4.7 C1.3,4.7 0,5.8 0,7.35 C0,8.9 1.4,10 3.3,10 C5.2,10 6.6,8.9 6.6,7.35 C6.6,5.8 5.3,4.7 3.3,4.7 Z" stroke-width="2.5" vector-effect="non-scaling-stroke"/>
<path transform="translate(804.25,1091.65) scale(1.0571,0.9400)" d="M0,10 L0,0 L4.1,0 C6,0 6.9,1.2 6.9,2.6 C6.9,4.1 5.9,5.2 4.1,5.2 L0,5.2 M3.6,5.2 L7,10" stroke-width="2.5" vector-effect="non-scaling-stroke"/><path transform="translate(818.55,1091.65) scale(0.9091,0.9400)" d="M3.3,4.7 C1.6,4.7 0.5,3.7 0.5,2.35 C0.5,1 1.6,0 3.3,0 C5,0 6.1,1 6.1,2.35 C6.1,3.7 5,4.7 3.3,4.7 C1.3,4.7 0,5.8 0,7.35 C0,8.9 1.4,10 3.3,10 C5.2,10 6.6,8.9 6.6,7.35 C6.6,5.8 5.3,4.7 3.3,4.7 Z" stroke-width="2.5" vector-effect="non-scaling-stroke"/>
<path transform="translate(736.35,1211.95) scale(1.2188,0.9900)" d="M0,0.4 L3.2,0.4 L3.2,10" stroke-width="2.7" vector-effect="non-scaling-stroke"/><path transform="translate(745.55,1211.95) scale(1.2424,0.9900)" d="M6,1.5 C5.4,0.5 4.5,0 3.5,0 C1.3,0 0.1,2.4 0.1,5.6 C0.1,8.4 1.4,10 3.4,10 C5.3,10 6.6,8.6 6.6,6.7 C6.6,4.8 5.3,3.6 3.5,3.6 C1.9,3.6 0.5,4.6 0.1,6.1" stroke-width="2.7" vector-effect="non-scaling-stroke"/>
<path transform="translate(627.35,1272.85) scale(1.1471,0.7800)" d="M5,10 L5,0 L0,6.9 L6.8,6.9" stroke-width="2.7" vector-effect="non-scaling-stroke"/><path transform="translate(655.35,1272.85) scale(1.1176,0.7800)" d="M0,5.7 L3.4,5.7" stroke-width="2.7" vector-effect="non-scaling-stroke"/><path transform="translate(680.35,1272.85) scale(1.1061,0.7800)" d="M3.3,4.7 C1.6,4.7 0.5,3.7 0.5,2.35 C0.5,1 1.6,0 3.3,0 C5,0 6.1,1 6.1,2.35 C6.1,3.7 5,4.7 3.3,4.7 C1.3,4.7 0,5.8 0,7.35 C0,8.9 1.4,10 3.3,10 C5.2,10 6.6,8.9 6.6,7.35 C6.6,5.8 5.3,4.7 3.3,4.7 Z" stroke-width="2.7" vector-effect="non-scaling-stroke"/>
<path transform="translate(622.80,1297.30) scale(0.9077,1.0400)" d="M5.9,0 L1.1,0 L0.6,4.7 C1.3,4 2.3,3.6 3.3,3.6 C5.2,3.6 6.5,4.9 6.5,6.8 C6.5,8.7 5.1,10 3.3,10 C1.8,10 0.6,9.3 0.1,8.1" stroke-width="2.6" vector-effect="non-scaling-stroke"/><path transform="translate(636.80,1297.30) scale(1.0615,1.0400)" d="M0.4,1.9 C1,0.6 2.1,0 3.3,0 C5,0 6.1,1.1 6.1,2.5 C6.1,3.9 5.1,4.8 3.2,4.8 C5.4,4.8 6.5,5.9 6.5,7.4 C6.5,9 5.2,10 3.3,10 C1.8,10 0.6,9.2 0.1,8" stroke-width="2.6" vector-effect="non-scaling-stroke"/><path transform="translate(648.30,1297.30) scale(1.5833,1.0400)" d="M1.2,8.6 L1.2,10 C1.2,11 0.8,11.8 0.2,12.4" stroke-width="2.6" vector-effect="non-scaling-stroke"/><path transform="translate(658.30,1297.30) scale(0.8182,1.0400)" d="M0.6,8.5 C1.2,9.5 2.1,10 3.1,10 C5.3,10 6.5,7.6 6.5,4.4 C6.5,1.6 5.2,0 3.2,0 C1.3,0 0,1.4 0,3.3 C0,5.2 1.3,6.4 3.1,6.4 C4.7,6.4 6.1,5.4 6.5,3.9" stroke-width="2.6" vector-effect="non-scaling-stroke"/><path transform="translate(672.30,1297.30) scale(1.0000,1.0400)" d="M0,0 L6.4,0 C4.4,2.6 2.9,6.2 2.4,10" stroke-width="2.6" vector-effect="non-scaling-stroke"/><path transform="translate(685.30,1297.30) scale(1.1143,1.0400)" d="M0,10 L0,0 L4.1,0 C6,0 6.9,1.2 6.9,2.6 C6.9,4.1 5.9,5.2 4.1,5.2 L0,5.2 M3.6,5.2 L7,10" stroke-width="2.6" vector-effect="non-scaling-stroke"/>
</g>
</svg>
</body></html>
